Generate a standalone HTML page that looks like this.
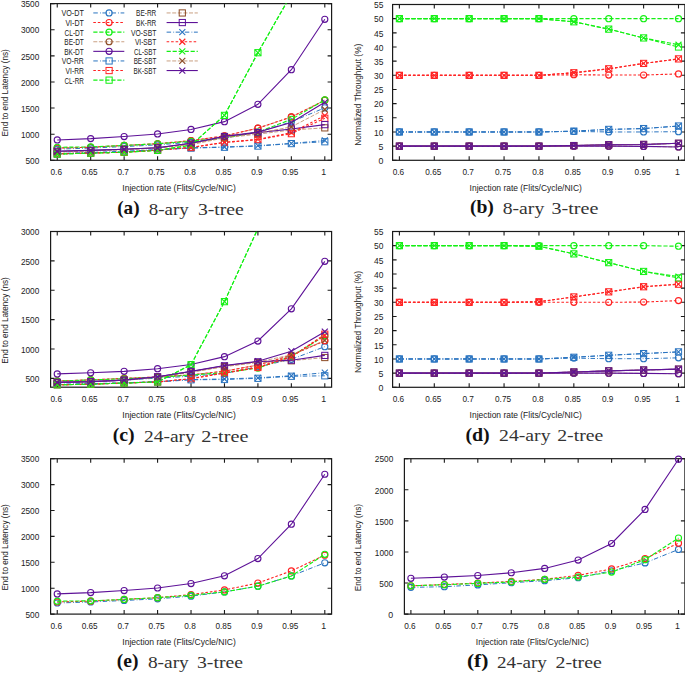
<!DOCTYPE html>
<html><head><meta charset="utf-8"><style>html,body{margin:0;padding:0;background:#fff;}svg{display:block;}</style></head>
<body><svg width="685" height="673" viewBox="0 0 685 673">
<rect width="685" height="673" fill="#fff"/>
<clipPath id="clipa"><rect x="50.6" y="3.6" width="281" height="156.7"/></clipPath>
<rect x="50.6" y="3.6" width="281" height="156.7" fill="none" stroke="#1a1a1a" stroke-width="1.2"/>
<text x="56.25" y="174.8" text-anchor="middle" textLength="11.5" lengthAdjust="spacingAndGlyphs" style="font-family:'Liberation Sans',sans-serif;font-size:8.8px" fill="#222">0.6</text>
<text x="89.69" y="174.8" text-anchor="middle" textLength="16" lengthAdjust="spacingAndGlyphs" style="font-family:'Liberation Sans',sans-serif;font-size:8.8px" fill="#222">0.65</text>
<text x="123.14" y="174.8" text-anchor="middle" textLength="11.5" lengthAdjust="spacingAndGlyphs" style="font-family:'Liberation Sans',sans-serif;font-size:8.8px" fill="#222">0.7</text>
<text x="156.58" y="174.8" text-anchor="middle" textLength="16" lengthAdjust="spacingAndGlyphs" style="font-family:'Liberation Sans',sans-serif;font-size:8.8px" fill="#222">0.75</text>
<text x="190.03" y="174.8" text-anchor="middle" textLength="11.5" lengthAdjust="spacingAndGlyphs" style="font-family:'Liberation Sans',sans-serif;font-size:8.8px" fill="#222">0.8</text>
<text x="223.47" y="174.8" text-anchor="middle" textLength="16" lengthAdjust="spacingAndGlyphs" style="font-family:'Liberation Sans',sans-serif;font-size:8.8px" fill="#222">0.85</text>
<text x="256.91" y="174.8" text-anchor="middle" textLength="11.5" lengthAdjust="spacingAndGlyphs" style="font-family:'Liberation Sans',sans-serif;font-size:8.8px" fill="#222">0.9</text>
<text x="290.36" y="174.8" text-anchor="middle" textLength="16" lengthAdjust="spacingAndGlyphs" style="font-family:'Liberation Sans',sans-serif;font-size:8.8px" fill="#222">0.95</text>
<text x="323.8" y="174.8" text-anchor="middle" textLength="4.9" lengthAdjust="spacingAndGlyphs" style="font-family:'Liberation Sans',sans-serif;font-size:8.8px" fill="#222">1</text>
<text x="39.3" y="164.05" text-anchor="end" textLength="13.9" lengthAdjust="spacingAndGlyphs" style="font-family:'Liberation Sans',sans-serif;font-size:8.8px" fill="#222">500</text>
<text x="39.3" y="137.93" text-anchor="end" textLength="18.4" lengthAdjust="spacingAndGlyphs" style="font-family:'Liberation Sans',sans-serif;font-size:8.8px" fill="#222">1000</text>
<text x="39.3" y="111.82" text-anchor="end" textLength="18.4" lengthAdjust="spacingAndGlyphs" style="font-family:'Liberation Sans',sans-serif;font-size:8.8px" fill="#222">1500</text>
<text x="39.3" y="85.7" text-anchor="end" textLength="18.4" lengthAdjust="spacingAndGlyphs" style="font-family:'Liberation Sans',sans-serif;font-size:8.8px" fill="#222">2000</text>
<text x="39.3" y="59.58" text-anchor="end" textLength="18.4" lengthAdjust="spacingAndGlyphs" style="font-family:'Liberation Sans',sans-serif;font-size:8.8px" fill="#222">2500</text>
<text x="39.3" y="33.47" text-anchor="end" textLength="18.4" lengthAdjust="spacingAndGlyphs" style="font-family:'Liberation Sans',sans-serif;font-size:8.8px" fill="#222">3000</text>
<text x="39.3" y="7.35" text-anchor="end" textLength="18.4" lengthAdjust="spacingAndGlyphs" style="font-family:'Liberation Sans',sans-serif;font-size:8.8px" fill="#222">3500</text>
<path d="M57.25 160.3v-4M57.25 3.6v4M90.69 160.3v-4M90.69 3.6v4M124.14 160.3v-4M124.14 3.6v4M157.58 160.3v-4M157.58 3.6v4M191.03 160.3v-4M191.03 3.6v4M224.47 160.3v-4M224.47 3.6v4M257.91 160.3v-4M257.91 3.6v4M291.36 160.3v-4M291.36 3.6v4M324.8 160.3v-4M324.8 3.6v4M50.6 160.3h4M331.6 160.3h-4M50.6 134.18h4M331.6 134.18h-4M50.6 108.07h4M331.6 108.07h-4M50.6 81.95h4M331.6 81.95h-4M50.6 55.83h4M331.6 55.83h-4M50.6 29.72h4M331.6 29.72h-4M50.6 3.6h4M331.6 3.6h-4" stroke="#1a1a1a" stroke-width="1.1"/>
<polyline clip-path="url(#clipa)" points="57.25,148.03 90.69,147.24 124.14,145.47 157.58,143.74 191.03,140.66 224.47,135.91 257.91,128.18 291.36,116.95 324.8,100.23" fill="none" stroke="#b8805a" stroke-width="0.75" stroke-dasharray="4 1.6"/>
<circle cx="57.25" cy="148.03" r="3.05" fill="none" stroke="#8b4a24" stroke-width="1.12"/>
<circle cx="90.69" cy="147.24" r="3.05" fill="none" stroke="#8b4a24" stroke-width="1.12"/>
<circle cx="124.14" cy="145.47" r="3.05" fill="none" stroke="#8b4a24" stroke-width="1.12"/>
<circle cx="157.58" cy="143.74" r="3.05" fill="none" stroke="#8b4a24" stroke-width="1.12"/>
<circle cx="191.03" cy="140.66" r="3.05" fill="none" stroke="#8b4a24" stroke-width="1.12"/>
<circle cx="224.47" cy="135.91" r="3.05" fill="none" stroke="#8b4a24" stroke-width="1.12"/>
<circle cx="257.91" cy="128.18" r="3.05" fill="none" stroke="#8b4a24" stroke-width="1.12"/>
<circle cx="291.36" cy="116.95" r="3.05" fill="none" stroke="#8b4a24" stroke-width="1.12"/>
<circle cx="324.8" cy="100.23" r="3.05" fill="none" stroke="#8b4a24" stroke-width="1.12"/>
<polyline clip-path="url(#clipa)" points="57.25,149.12 90.69,148.08 124.14,146.56 157.58,144.89 191.03,142.18 224.47,137.89 257.91,132.15 291.36,121.8 324.8,107.81" fill="none" stroke="#2a74c0" stroke-width="1.0" stroke-dasharray="4.5 2.2 0.8 1.6"/>
<circle cx="57.25" cy="149.12" r="3.05" fill="none" stroke="#2a74c0" stroke-width="1.12"/>
<circle cx="90.69" cy="148.08" r="3.05" fill="none" stroke="#2a74c0" stroke-width="1.12"/>
<circle cx="124.14" cy="146.56" r="3.05" fill="none" stroke="#2a74c0" stroke-width="1.12"/>
<circle cx="157.58" cy="144.89" r="3.05" fill="none" stroke="#2a74c0" stroke-width="1.12"/>
<circle cx="191.03" cy="142.18" r="3.05" fill="none" stroke="#2a74c0" stroke-width="1.12"/>
<circle cx="224.47" cy="137.89" r="3.05" fill="none" stroke="#2a74c0" stroke-width="1.12"/>
<circle cx="257.91" cy="132.15" r="3.05" fill="none" stroke="#2a74c0" stroke-width="1.12"/>
<circle cx="291.36" cy="121.8" r="3.05" fill="none" stroke="#2a74c0" stroke-width="1.12"/>
<circle cx="324.8" cy="107.81" r="3.05" fill="none" stroke="#2a74c0" stroke-width="1.12"/>
<polyline clip-path="url(#clipa)" points="57.25,148.03 90.69,147.24 124.14,145.47 157.58,143.74 191.03,140.66 224.47,135.91 257.91,128.18 291.36,116.95 324.8,100.23" fill="none" stroke="#ff2222" stroke-width="1.1" stroke-dasharray="2.6 1.9"/>
<circle cx="57.25" cy="148.03" r="3.05" fill="none" stroke="#ff2222" stroke-width="1.12"/>
<circle cx="90.69" cy="147.24" r="3.05" fill="none" stroke="#ff2222" stroke-width="1.12"/>
<circle cx="124.14" cy="145.47" r="3.05" fill="none" stroke="#ff2222" stroke-width="1.12"/>
<circle cx="157.58" cy="143.74" r="3.05" fill="none" stroke="#ff2222" stroke-width="1.12"/>
<circle cx="191.03" cy="140.66" r="3.05" fill="none" stroke="#ff2222" stroke-width="1.12"/>
<circle cx="224.47" cy="135.91" r="3.05" fill="none" stroke="#ff2222" stroke-width="1.12"/>
<circle cx="257.91" cy="128.18" r="3.05" fill="none" stroke="#ff2222" stroke-width="1.12"/>
<circle cx="291.36" cy="116.95" r="3.05" fill="none" stroke="#ff2222" stroke-width="1.12"/>
<circle cx="324.8" cy="100.23" r="3.05" fill="none" stroke="#ff2222" stroke-width="1.12"/>
<polyline clip-path="url(#clipa)" points="57.25,147.29 90.69,146.88 124.14,145.47 157.58,143.74 191.03,141.39 224.47,137.89 257.91,132.15 291.36,119.3 324.8,99.97" fill="none" stroke="#14f014" stroke-width="1.1" stroke-dasharray="4.2 1.8"/>
<circle cx="57.25" cy="147.29" r="3.05" fill="none" stroke="#14f014" stroke-width="1.12"/>
<circle cx="90.69" cy="146.88" r="3.05" fill="none" stroke="#14f014" stroke-width="1.12"/>
<circle cx="124.14" cy="145.47" r="3.05" fill="none" stroke="#14f014" stroke-width="1.12"/>
<circle cx="157.58" cy="143.74" r="3.05" fill="none" stroke="#14f014" stroke-width="1.12"/>
<circle cx="191.03" cy="141.39" r="3.05" fill="none" stroke="#14f014" stroke-width="1.12"/>
<circle cx="224.47" cy="137.89" r="3.05" fill="none" stroke="#14f014" stroke-width="1.12"/>
<circle cx="257.91" cy="132.15" r="3.05" fill="none" stroke="#14f014" stroke-width="1.12"/>
<circle cx="291.36" cy="119.3" r="3.05" fill="none" stroke="#14f014" stroke-width="1.12"/>
<circle cx="324.8" cy="99.97" r="3.05" fill="none" stroke="#14f014" stroke-width="1.12"/>
<polyline clip-path="url(#clipa)" points="57.25,139.93 90.69,138.62 124.14,136.53 157.58,133.97 191.03,129.48 224.47,121.65 257.91,104.31 291.36,69.68 324.8,19.27" fill="none" stroke="#5e1298" stroke-width="1.1"/>
<circle cx="57.25" cy="139.93" r="3.05" fill="none" stroke="#5e1298" stroke-width="1.12"/>
<circle cx="90.69" cy="138.62" r="3.05" fill="none" stroke="#5e1298" stroke-width="1.12"/>
<circle cx="124.14" cy="136.53" r="3.05" fill="none" stroke="#5e1298" stroke-width="1.12"/>
<circle cx="157.58" cy="133.97" r="3.05" fill="none" stroke="#5e1298" stroke-width="1.12"/>
<circle cx="191.03" cy="129.48" r="3.05" fill="none" stroke="#5e1298" stroke-width="1.12"/>
<circle cx="224.47" cy="121.65" r="3.05" fill="none" stroke="#5e1298" stroke-width="1.12"/>
<circle cx="257.91" cy="104.31" r="3.05" fill="none" stroke="#5e1298" stroke-width="1.12"/>
<circle cx="291.36" cy="69.68" r="3.05" fill="none" stroke="#5e1298" stroke-width="1.12"/>
<circle cx="324.8" cy="19.27" r="3.05" fill="none" stroke="#5e1298" stroke-width="1.12"/>
<polyline clip-path="url(#clipa)" points="57.25,154.03 90.69,152.99 124.14,151.68 157.58,149.85 191.03,148.13 224.47,147.24 257.91,146.09 291.36,143.59 324.8,141.76" fill="none" stroke="#2a74c0" stroke-width="1.0" stroke-dasharray="4.5 2.2 0.8 1.6"/>
<rect x="54.15" y="150.93" width="6.2" height="6.2" fill="none" stroke="#2a74c0" stroke-width="1.0"/>
<rect x="87.59" y="149.89" width="6.2" height="6.2" fill="none" stroke="#2a74c0" stroke-width="1.0"/>
<rect x="121.04" y="148.58" width="6.2" height="6.2" fill="none" stroke="#2a74c0" stroke-width="1.0"/>
<rect x="154.48" y="146.75" width="6.2" height="6.2" fill="none" stroke="#2a74c0" stroke-width="1.0"/>
<rect x="187.93" y="145.03" width="6.2" height="6.2" fill="none" stroke="#2a74c0" stroke-width="1.0"/>
<rect x="221.37" y="144.14" width="6.2" height="6.2" fill="none" stroke="#2a74c0" stroke-width="1.0"/>
<rect x="254.81" y="142.99" width="6.2" height="6.2" fill="none" stroke="#2a74c0" stroke-width="1.0"/>
<rect x="288.26" y="140.49" width="6.2" height="6.2" fill="none" stroke="#2a74c0" stroke-width="1.0"/>
<rect x="321.7" y="138.66" width="6.2" height="6.2" fill="none" stroke="#2a74c0" stroke-width="1.0"/>
<polyline clip-path="url(#clipa)" points="57.25,153.82 90.69,152.99 124.14,152.31 157.58,150.11 191.03,147.5 224.47,142.54 257.91,139.62 291.36,133.66 324.8,118.25" fill="none" stroke="#ff2222" stroke-width="1.1" stroke-dasharray="2.6 1.9"/>
<rect x="54.15" y="150.72" width="6.2" height="6.2" fill="none" stroke="#ff2222" stroke-width="1.0"/>
<rect x="87.59" y="149.89" width="6.2" height="6.2" fill="none" stroke="#ff2222" stroke-width="1.0"/>
<rect x="121.04" y="149.21" width="6.2" height="6.2" fill="none" stroke="#ff2222" stroke-width="1.0"/>
<rect x="154.48" y="147.01" width="6.2" height="6.2" fill="none" stroke="#ff2222" stroke-width="1.0"/>
<rect x="187.93" y="144.4" width="6.2" height="6.2" fill="none" stroke="#ff2222" stroke-width="1.0"/>
<rect x="221.37" y="139.44" width="6.2" height="6.2" fill="none" stroke="#ff2222" stroke-width="1.0"/>
<rect x="254.81" y="136.52" width="6.2" height="6.2" fill="none" stroke="#ff2222" stroke-width="1.0"/>
<rect x="288.26" y="130.56" width="6.2" height="6.2" fill="none" stroke="#ff2222" stroke-width="1.0"/>
<rect x="321.7" y="115.15" width="6.2" height="6.2" fill="none" stroke="#ff2222" stroke-width="1.0"/>
<polyline clip-path="url(#clipa)" points="57.25,154.03 90.69,153.14 124.14,152.2 157.58,150.38 191.03,145.15 224.47,115.38 257.91,52.7 291.36,-5.8 324.8,-64.3" fill="none" stroke="#14f014" stroke-width="1.1" stroke-dasharray="4.2 1.8"/>
<rect x="54.15" y="150.93" width="6.2" height="6.2" fill="none" stroke="#14f014" stroke-width="1.0"/>
<rect x="87.59" y="150.04" width="6.2" height="6.2" fill="none" stroke="#14f014" stroke-width="1.0"/>
<rect x="121.04" y="149.1" width="6.2" height="6.2" fill="none" stroke="#14f014" stroke-width="1.0"/>
<rect x="154.48" y="147.28" width="6.2" height="6.2" fill="none" stroke="#14f014" stroke-width="1.0"/>
<rect x="187.93" y="142.05" width="6.2" height="6.2" fill="none" stroke="#14f014" stroke-width="1.0"/>
<rect x="221.37" y="112.28" width="6.2" height="6.2" fill="none" stroke="#14f014" stroke-width="1.0"/>
<rect x="254.81" y="49.6" width="6.2" height="6.2" fill="none" stroke="#14f014" stroke-width="1.0"/>
<polyline clip-path="url(#clipa)" points="57.25,151.94 90.69,150.9 124.14,149.59 157.58,148.03 191.03,144.63 224.47,137.84 257.91,134.18 291.36,130 324.8,127.86" fill="none" stroke="#b8805a" stroke-width="0.75" stroke-dasharray="4 1.6"/>
<rect x="54.15" y="148.84" width="6.2" height="6.2" fill="none" stroke="#8b4a24" stroke-width="1.0"/>
<rect x="87.59" y="147.8" width="6.2" height="6.2" fill="none" stroke="#8b4a24" stroke-width="1.0"/>
<rect x="121.04" y="146.49" width="6.2" height="6.2" fill="none" stroke="#8b4a24" stroke-width="1.0"/>
<rect x="154.48" y="144.93" width="6.2" height="6.2" fill="none" stroke="#8b4a24" stroke-width="1.0"/>
<rect x="187.93" y="141.53" width="6.2" height="6.2" fill="none" stroke="#8b4a24" stroke-width="1.0"/>
<rect x="221.37" y="134.74" width="6.2" height="6.2" fill="none" stroke="#8b4a24" stroke-width="1.0"/>
<rect x="254.81" y="131.08" width="6.2" height="6.2" fill="none" stroke="#8b4a24" stroke-width="1.0"/>
<rect x="288.26" y="126.9" width="6.2" height="6.2" fill="none" stroke="#8b4a24" stroke-width="1.0"/>
<rect x="321.7" y="124.76" width="6.2" height="6.2" fill="none" stroke="#8b4a24" stroke-width="1.0"/>
<polyline clip-path="url(#clipa)" points="57.25,151.21 90.69,150.38 124.14,149.23 157.58,147.82 191.03,143.22 224.47,136.53 257.91,132.62 291.36,128.96 324.8,124.62" fill="none" stroke="#5e1298" stroke-width="1.1"/>
<rect x="54.15" y="148.11" width="6.2" height="6.2" fill="none" stroke="#5e1298" stroke-width="1.0"/>
<rect x="87.59" y="147.28" width="6.2" height="6.2" fill="none" stroke="#5e1298" stroke-width="1.0"/>
<rect x="121.04" y="146.13" width="6.2" height="6.2" fill="none" stroke="#5e1298" stroke-width="1.0"/>
<rect x="154.48" y="144.72" width="6.2" height="6.2" fill="none" stroke="#5e1298" stroke-width="1.0"/>
<rect x="187.93" y="140.12" width="6.2" height="6.2" fill="none" stroke="#5e1298" stroke-width="1.0"/>
<rect x="221.37" y="133.43" width="6.2" height="6.2" fill="none" stroke="#5e1298" stroke-width="1.0"/>
<rect x="254.81" y="129.52" width="6.2" height="6.2" fill="none" stroke="#5e1298" stroke-width="1.0"/>
<rect x="288.26" y="125.86" width="6.2" height="6.2" fill="none" stroke="#5e1298" stroke-width="1.0"/>
<rect x="321.7" y="121.52" width="6.2" height="6.2" fill="none" stroke="#5e1298" stroke-width="1.0"/>
<polyline clip-path="url(#clipa)" points="57.25,153.51 90.69,152.47 124.14,151.32 157.58,149.59 191.03,147.76 224.47,146.98 257.91,145.67 291.36,143.43 324.8,140.45" fill="none" stroke="#2a74c0" stroke-width="1.0" stroke-dasharray="4.5 2.2 0.8 1.6"/>
<path d="M54.25 150.51L60.25 156.51M54.25 156.51L60.25 150.51" stroke="#2a74c0" stroke-width="1.15" fill="none"/>
<path d="M87.69 149.47L93.69 155.47M87.69 155.47L93.69 149.47" stroke="#2a74c0" stroke-width="1.15" fill="none"/>
<path d="M121.14 148.32L127.14 154.32M121.14 154.32L127.14 148.32" stroke="#2a74c0" stroke-width="1.15" fill="none"/>
<path d="M154.58 146.59L160.58 152.59M154.58 152.59L160.58 146.59" stroke="#2a74c0" stroke-width="1.15" fill="none"/>
<path d="M188.03 144.76L194.03 150.76M188.03 150.76L194.03 144.76" stroke="#2a74c0" stroke-width="1.15" fill="none"/>
<path d="M221.47 143.98L227.47 149.98M221.47 149.98L227.47 143.98" stroke="#2a74c0" stroke-width="1.15" fill="none"/>
<path d="M254.91 142.67L260.91 148.67M254.91 148.67L260.91 142.67" stroke="#2a74c0" stroke-width="1.15" fill="none"/>
<path d="M288.36 140.43L294.36 146.43M288.36 146.43L294.36 140.43" stroke="#2a74c0" stroke-width="1.15" fill="none"/>
<path d="M321.8 137.45L327.8 143.45M321.8 143.45L327.8 137.45" stroke="#2a74c0" stroke-width="1.15" fill="none"/>
<polyline clip-path="url(#clipa)" points="57.25,153.82 90.69,152.99 124.14,152.31 157.58,150.11 191.03,147.5 224.47,142.28 257.91,139.41 291.36,132.62 324.8,115.64" fill="none" stroke="#ff2222" stroke-width="1.1" stroke-dasharray="2.6 1.9"/>
<path d="M54.25 150.82L60.25 156.82M54.25 156.82L60.25 150.82" stroke="#ff2222" stroke-width="1.15" fill="none"/>
<path d="M87.69 149.99L93.69 155.99M87.69 155.99L93.69 149.99" stroke="#ff2222" stroke-width="1.15" fill="none"/>
<path d="M121.14 149.31L127.14 155.31M121.14 155.31L127.14 149.31" stroke="#ff2222" stroke-width="1.15" fill="none"/>
<path d="M154.58 147.11L160.58 153.11M154.58 153.11L160.58 147.11" stroke="#ff2222" stroke-width="1.15" fill="none"/>
<path d="M188.03 144.5L194.03 150.5M188.03 150.5L194.03 144.5" stroke="#ff2222" stroke-width="1.15" fill="none"/>
<path d="M221.47 139.28L227.47 145.28M221.47 145.28L227.47 139.28" stroke="#ff2222" stroke-width="1.15" fill="none"/>
<path d="M254.91 136.41L260.91 142.41M254.91 142.41L260.91 136.41" stroke="#ff2222" stroke-width="1.15" fill="none"/>
<path d="M288.36 129.62L294.36 135.62M288.36 135.62L294.36 129.62" stroke="#ff2222" stroke-width="1.15" fill="none"/>
<path d="M321.8 112.64L327.8 118.64M321.8 118.64L327.8 112.64" stroke="#ff2222" stroke-width="1.15" fill="none"/>
<polyline clip-path="url(#clipa)" points="57.25,154.03 90.69,153.14 124.14,152.2 157.58,150.38 191.03,145.15 224.47,115.38 257.91,52.7 291.36,-5.8 324.8,-64.3" fill="none" stroke="#14f014" stroke-width="1.1" stroke-dasharray="4.2 1.8"/>
<path d="M54.25 151.03L60.25 157.03M54.25 157.03L60.25 151.03" stroke="#14f014" stroke-width="1.15" fill="none"/>
<path d="M87.69 150.14L93.69 156.14M87.69 156.14L93.69 150.14" stroke="#14f014" stroke-width="1.15" fill="none"/>
<path d="M121.14 149.2L127.14 155.2M121.14 155.2L127.14 149.2" stroke="#14f014" stroke-width="1.15" fill="none"/>
<path d="M154.58 147.38L160.58 153.38M154.58 153.38L160.58 147.38" stroke="#14f014" stroke-width="1.15" fill="none"/>
<path d="M188.03 142.15L194.03 148.15M188.03 148.15L194.03 142.15" stroke="#14f014" stroke-width="1.15" fill="none"/>
<path d="M221.47 112.38L227.47 118.38M221.47 118.38L227.47 112.38" stroke="#14f014" stroke-width="1.15" fill="none"/>
<path d="M254.91 49.7L260.91 55.7M254.91 55.7L260.91 49.7" stroke="#14f014" stroke-width="1.15" fill="none"/>
<polyline clip-path="url(#clipa)" points="57.25,151.94 90.69,150.9 124.14,149.59 157.58,148.03 191.03,144.11 224.47,137.32 257.91,133.14 291.36,126.87 324.8,109.48" fill="none" stroke="#b8805a" stroke-width="0.75" stroke-dasharray="4 1.6"/>
<path d="M54.25 148.94L60.25 154.94M54.25 154.94L60.25 148.94" stroke="#8b4a24" stroke-width="1.15" fill="none"/>
<path d="M87.69 147.9L93.69 153.9M87.69 153.9L93.69 147.9" stroke="#8b4a24" stroke-width="1.15" fill="none"/>
<path d="M121.14 146.59L127.14 152.59M121.14 152.59L127.14 146.59" stroke="#8b4a24" stroke-width="1.15" fill="none"/>
<path d="M154.58 145.03L160.58 151.03M154.58 151.03L160.58 145.03" stroke="#8b4a24" stroke-width="1.15" fill="none"/>
<path d="M188.03 141.11L194.03 147.11M188.03 147.11L194.03 141.11" stroke="#8b4a24" stroke-width="1.15" fill="none"/>
<path d="M221.47 134.32L227.47 140.32M221.47 140.32L227.47 134.32" stroke="#8b4a24" stroke-width="1.15" fill="none"/>
<path d="M254.91 130.14L260.91 136.14M254.91 136.14L260.91 130.14" stroke="#8b4a24" stroke-width="1.15" fill="none"/>
<path d="M288.36 123.87L294.36 129.87M288.36 129.87L294.36 123.87" stroke="#8b4a24" stroke-width="1.15" fill="none"/>
<path d="M321.8 106.48L327.8 112.48M321.8 112.48L327.8 106.48" stroke="#8b4a24" stroke-width="1.15" fill="none"/>
<polyline clip-path="url(#clipa)" points="57.25,151.21 90.69,150.38 124.14,149.23 157.58,147.82 191.03,143.22 224.47,136.27 257.91,132.09 291.36,122.59 324.8,102.32" fill="none" stroke="#5e1298" stroke-width="1.1"/>
<path d="M54.25 148.21L60.25 154.21M54.25 154.21L60.25 148.21" stroke="#5e1298" stroke-width="1.15" fill="none"/>
<path d="M87.69 147.38L93.69 153.38M87.69 153.38L93.69 147.38" stroke="#5e1298" stroke-width="1.15" fill="none"/>
<path d="M121.14 146.23L127.14 152.23M121.14 152.23L127.14 146.23" stroke="#5e1298" stroke-width="1.15" fill="none"/>
<path d="M154.58 144.82L160.58 150.82M154.58 150.82L160.58 144.82" stroke="#5e1298" stroke-width="1.15" fill="none"/>
<path d="M188.03 140.22L194.03 146.22M188.03 146.22L194.03 140.22" stroke="#5e1298" stroke-width="1.15" fill="none"/>
<path d="M221.47 133.27L227.47 139.27M221.47 139.27L227.47 133.27" stroke="#5e1298" stroke-width="1.15" fill="none"/>
<path d="M254.91 129.09L260.91 135.09M254.91 135.09L260.91 129.09" stroke="#5e1298" stroke-width="1.15" fill="none"/>
<path d="M288.36 119.59L294.36 125.59M288.36 125.59L294.36 119.59" stroke="#5e1298" stroke-width="1.15" fill="none"/>
<path d="M321.8 99.32L327.8 105.32M321.8 105.32L327.8 99.32" stroke="#5e1298" stroke-width="1.15" fill="none"/>
<text x="122.3" y="190.9" textLength="113.5" lengthAdjust="spacingAndGlyphs" style="font-family:'Liberation Sans',sans-serif;font-size:9px" fill="#222">Injection rate (Flits/Cycle/NIC)</text>
<text transform="translate(7.8,136.4) rotate(-90)" x="0" y="0" textLength="87.2" lengthAdjust="spacingAndGlyphs" style="font-family:'Liberation Sans',sans-serif;font-size:8.6px" fill="#222">End to end Latency (ns)</text>
<text x="117.2" y="213.8" textLength="22.4" lengthAdjust="spacingAndGlyphs" style="font-family:'Liberation Serif',serif;font-weight:bold;font-size:19.5px" fill="#111">(a)</text>
<text x="148.8" y="214.7" textLength="39.9" lengthAdjust="spacingAndGlyphs" style="font-family:'Liberation Serif',serif;font-size:16.5px" fill="#333">8-ary</text>
<text x="197.9" y="214.7" textLength="46" lengthAdjust="spacingAndGlyphs" style="font-family:'Liberation Serif',serif;font-size:16.5px" fill="#333">3-tree</text>
<clipPath id="clipb"><rect x="392.6" y="4.5" width="292.3" height="155.8"/></clipPath>
<rect x="392.6" y="4.5" width="292.3" height="155.8" fill="none" stroke="#1a1a1a" stroke-width="1.2"/>
<text x="398.4" y="174.8" text-anchor="middle" textLength="11.5" lengthAdjust="spacingAndGlyphs" style="font-family:'Liberation Sans',sans-serif;font-size:8.8px" fill="#222">0.6</text>
<text x="433.29" y="174.8" text-anchor="middle" textLength="16" lengthAdjust="spacingAndGlyphs" style="font-family:'Liberation Sans',sans-serif;font-size:8.8px" fill="#222">0.65</text>
<text x="468.17" y="174.8" text-anchor="middle" textLength="11.5" lengthAdjust="spacingAndGlyphs" style="font-family:'Liberation Sans',sans-serif;font-size:8.8px" fill="#222">0.7</text>
<text x="503.06" y="174.8" text-anchor="middle" textLength="16" lengthAdjust="spacingAndGlyphs" style="font-family:'Liberation Sans',sans-serif;font-size:8.8px" fill="#222">0.75</text>
<text x="537.95" y="174.8" text-anchor="middle" textLength="11.5" lengthAdjust="spacingAndGlyphs" style="font-family:'Liberation Sans',sans-serif;font-size:8.8px" fill="#222">0.8</text>
<text x="572.84" y="174.8" text-anchor="middle" textLength="16" lengthAdjust="spacingAndGlyphs" style="font-family:'Liberation Sans',sans-serif;font-size:8.8px" fill="#222">0.85</text>
<text x="607.73" y="174.8" text-anchor="middle" textLength="11.5" lengthAdjust="spacingAndGlyphs" style="font-family:'Liberation Sans',sans-serif;font-size:8.8px" fill="#222">0.9</text>
<text x="642.61" y="174.8" text-anchor="middle" textLength="16" lengthAdjust="spacingAndGlyphs" style="font-family:'Liberation Sans',sans-serif;font-size:8.8px" fill="#222">0.95</text>
<text x="677.5" y="174.8" text-anchor="middle" textLength="4.9" lengthAdjust="spacingAndGlyphs" style="font-family:'Liberation Sans',sans-serif;font-size:8.8px" fill="#222">1</text>
<text x="383.5" y="164.05" text-anchor="end" textLength="4.9" lengthAdjust="spacingAndGlyphs" style="font-family:'Liberation Sans',sans-serif;font-size:8.8px" fill="#222">0</text>
<text x="383.5" y="149.89" text-anchor="end" textLength="4.9" lengthAdjust="spacingAndGlyphs" style="font-family:'Liberation Sans',sans-serif;font-size:8.8px" fill="#222">5</text>
<text x="383.5" y="135.72" text-anchor="end" textLength="9.4" lengthAdjust="spacingAndGlyphs" style="font-family:'Liberation Sans',sans-serif;font-size:8.8px" fill="#222">10</text>
<text x="383.5" y="121.56" text-anchor="end" textLength="9.4" lengthAdjust="spacingAndGlyphs" style="font-family:'Liberation Sans',sans-serif;font-size:8.8px" fill="#222">15</text>
<text x="383.5" y="107.4" text-anchor="end" textLength="9.4" lengthAdjust="spacingAndGlyphs" style="font-family:'Liberation Sans',sans-serif;font-size:8.8px" fill="#222">20</text>
<text x="383.5" y="93.23" text-anchor="end" textLength="9.4" lengthAdjust="spacingAndGlyphs" style="font-family:'Liberation Sans',sans-serif;font-size:8.8px" fill="#222">25</text>
<text x="383.5" y="79.07" text-anchor="end" textLength="9.4" lengthAdjust="spacingAndGlyphs" style="font-family:'Liberation Sans',sans-serif;font-size:8.8px" fill="#222">30</text>
<text x="383.5" y="64.9" text-anchor="end" textLength="9.4" lengthAdjust="spacingAndGlyphs" style="font-family:'Liberation Sans',sans-serif;font-size:8.8px" fill="#222">35</text>
<text x="383.5" y="50.74" text-anchor="end" textLength="9.4" lengthAdjust="spacingAndGlyphs" style="font-family:'Liberation Sans',sans-serif;font-size:8.8px" fill="#222">40</text>
<text x="383.5" y="36.58" text-anchor="end" textLength="9.4" lengthAdjust="spacingAndGlyphs" style="font-family:'Liberation Sans',sans-serif;font-size:8.8px" fill="#222">45</text>
<text x="383.5" y="22.41" text-anchor="end" textLength="9.4" lengthAdjust="spacingAndGlyphs" style="font-family:'Liberation Sans',sans-serif;font-size:8.8px" fill="#222">50</text>
<text x="383.5" y="8.25" text-anchor="end" textLength="9.4" lengthAdjust="spacingAndGlyphs" style="font-family:'Liberation Sans',sans-serif;font-size:8.8px" fill="#222">55</text>
<path d="M399.4 160.3v-4M399.4 4.5v4M434.29 160.3v-4M434.29 4.5v4M469.17 160.3v-4M469.17 4.5v4M504.06 160.3v-4M504.06 4.5v4M538.95 160.3v-4M538.95 4.5v4M573.84 160.3v-4M573.84 4.5v4M608.73 160.3v-4M608.73 4.5v4M643.61 160.3v-4M643.61 4.5v4M678.5 160.3v-4M678.5 4.5v4M392.6 160.3h4M684.9 160.3h-4M392.6 146.14h4M684.9 146.14h-4M392.6 131.97h4M684.9 131.97h-4M392.6 117.81h4M684.9 117.81h-4M392.6 103.65h4M684.9 103.65h-4M392.6 89.48h4M684.9 89.48h-4M392.6 75.32h4M684.9 75.32h-4M392.6 61.15h4M684.9 61.15h-4M392.6 46.99h4M684.9 46.99h-4M392.6 32.83h4M684.9 32.83h-4M392.6 18.66h4M684.9 18.66h-4M392.6 4.5h4M684.9 4.5h-4" stroke="#1a1a1a" stroke-width="1.1"/>
<polyline clip-path="url(#clipb)" points="399.4,131.97 434.29,131.97 469.17,131.97 504.06,131.97 538.95,131.97 573.84,131.41 608.73,131.97 643.61,131.97 678.5,131.69" fill="none" stroke="#2a74c0" stroke-width="1.0" stroke-dasharray="4.5 2.2 0.8 1.6"/>
<circle cx="399.4" cy="131.97" r="3.05" fill="none" stroke="#2a74c0" stroke-width="1.12"/>
<circle cx="434.29" cy="131.97" r="3.05" fill="none" stroke="#2a74c0" stroke-width="1.12"/>
<circle cx="469.17" cy="131.97" r="3.05" fill="none" stroke="#2a74c0" stroke-width="1.12"/>
<circle cx="504.06" cy="131.97" r="3.05" fill="none" stroke="#2a74c0" stroke-width="1.12"/>
<circle cx="538.95" cy="131.97" r="3.05" fill="none" stroke="#2a74c0" stroke-width="1.12"/>
<circle cx="573.84" cy="131.41" r="3.05" fill="none" stroke="#2a74c0" stroke-width="1.12"/>
<circle cx="608.73" cy="131.97" r="3.05" fill="none" stroke="#2a74c0" stroke-width="1.12"/>
<circle cx="643.61" cy="131.97" r="3.05" fill="none" stroke="#2a74c0" stroke-width="1.12"/>
<circle cx="678.5" cy="131.69" r="3.05" fill="none" stroke="#2a74c0" stroke-width="1.12"/>
<polyline clip-path="url(#clipb)" points="399.4,75.32 434.29,75.32 469.17,75.32 504.06,75.32 538.95,75.32 573.84,74.75 608.73,75.03 643.61,75.03 678.5,73.9" fill="none" stroke="#ff2222" stroke-width="1.1" stroke-dasharray="2.6 1.9"/>
<circle cx="399.4" cy="75.32" r="3.05" fill="none" stroke="#ff2222" stroke-width="1.12"/>
<circle cx="434.29" cy="75.32" r="3.05" fill="none" stroke="#ff2222" stroke-width="1.12"/>
<circle cx="469.17" cy="75.32" r="3.05" fill="none" stroke="#ff2222" stroke-width="1.12"/>
<circle cx="504.06" cy="75.32" r="3.05" fill="none" stroke="#ff2222" stroke-width="1.12"/>
<circle cx="538.95" cy="75.32" r="3.05" fill="none" stroke="#ff2222" stroke-width="1.12"/>
<circle cx="573.84" cy="74.75" r="3.05" fill="none" stroke="#ff2222" stroke-width="1.12"/>
<circle cx="608.73" cy="75.03" r="3.05" fill="none" stroke="#ff2222" stroke-width="1.12"/>
<circle cx="643.61" cy="75.03" r="3.05" fill="none" stroke="#ff2222" stroke-width="1.12"/>
<circle cx="678.5" cy="73.9" r="3.05" fill="none" stroke="#ff2222" stroke-width="1.12"/>
<polyline clip-path="url(#clipb)" points="399.4,18.66 434.29,18.66 469.17,18.66 504.06,18.66 538.95,18.66 573.84,18.66 608.73,18.66 643.61,18.66 678.5,18.66" fill="none" stroke="#14f014" stroke-width="1.1" stroke-dasharray="4.2 1.8"/>
<circle cx="399.4" cy="18.66" r="3.05" fill="none" stroke="#14f014" stroke-width="1.12"/>
<circle cx="434.29" cy="18.66" r="3.05" fill="none" stroke="#14f014" stroke-width="1.12"/>
<circle cx="469.17" cy="18.66" r="3.05" fill="none" stroke="#14f014" stroke-width="1.12"/>
<circle cx="504.06" cy="18.66" r="3.05" fill="none" stroke="#14f014" stroke-width="1.12"/>
<circle cx="538.95" cy="18.66" r="3.05" fill="none" stroke="#14f014" stroke-width="1.12"/>
<circle cx="573.84" cy="18.66" r="3.05" fill="none" stroke="#14f014" stroke-width="1.12"/>
<circle cx="608.73" cy="18.66" r="3.05" fill="none" stroke="#14f014" stroke-width="1.12"/>
<circle cx="643.61" cy="18.66" r="3.05" fill="none" stroke="#14f014" stroke-width="1.12"/>
<circle cx="678.5" cy="18.66" r="3.05" fill="none" stroke="#14f014" stroke-width="1.12"/>
<polyline clip-path="url(#clipb)" points="399.4,146.14 434.29,146.14 469.17,146.14 504.06,146.14 538.95,146.14 573.84,146.14 608.73,146.14 643.61,146.42 678.5,146.99" fill="none" stroke="#b8805a" stroke-width="0.75" stroke-dasharray="4 1.6"/>
<circle cx="399.4" cy="146.14" r="3.05" fill="none" stroke="#8b4a24" stroke-width="1.12"/>
<circle cx="434.29" cy="146.14" r="3.05" fill="none" stroke="#8b4a24" stroke-width="1.12"/>
<circle cx="469.17" cy="146.14" r="3.05" fill="none" stroke="#8b4a24" stroke-width="1.12"/>
<circle cx="504.06" cy="146.14" r="3.05" fill="none" stroke="#8b4a24" stroke-width="1.12"/>
<circle cx="538.95" cy="146.14" r="3.05" fill="none" stroke="#8b4a24" stroke-width="1.12"/>
<circle cx="573.84" cy="146.14" r="3.05" fill="none" stroke="#8b4a24" stroke-width="1.12"/>
<circle cx="608.73" cy="146.14" r="3.05" fill="none" stroke="#8b4a24" stroke-width="1.12"/>
<circle cx="643.61" cy="146.42" r="3.05" fill="none" stroke="#8b4a24" stroke-width="1.12"/>
<circle cx="678.5" cy="146.99" r="3.05" fill="none" stroke="#8b4a24" stroke-width="1.12"/>
<polyline clip-path="url(#clipb)" points="399.4,146.14 434.29,146.14 469.17,146.14 504.06,146.14 538.95,146.14 573.84,146.14 608.73,146.14 643.61,146.42 678.5,146.99" fill="none" stroke="#5e1298" stroke-width="1.1"/>
<circle cx="399.4" cy="146.14" r="3.05" fill="none" stroke="#5e1298" stroke-width="1.12"/>
<circle cx="434.29" cy="146.14" r="3.05" fill="none" stroke="#5e1298" stroke-width="1.12"/>
<circle cx="469.17" cy="146.14" r="3.05" fill="none" stroke="#5e1298" stroke-width="1.12"/>
<circle cx="504.06" cy="146.14" r="3.05" fill="none" stroke="#5e1298" stroke-width="1.12"/>
<circle cx="538.95" cy="146.14" r="3.05" fill="none" stroke="#5e1298" stroke-width="1.12"/>
<circle cx="573.84" cy="146.14" r="3.05" fill="none" stroke="#5e1298" stroke-width="1.12"/>
<circle cx="608.73" cy="146.14" r="3.05" fill="none" stroke="#5e1298" stroke-width="1.12"/>
<circle cx="643.61" cy="146.42" r="3.05" fill="none" stroke="#5e1298" stroke-width="1.12"/>
<circle cx="678.5" cy="146.99" r="3.05" fill="none" stroke="#5e1298" stroke-width="1.12"/>
<polyline clip-path="url(#clipb)" points="399.4,131.97 434.29,131.97 469.17,131.97 504.06,131.97 538.95,131.97 573.84,131.12 608.73,129.42 643.61,128.57 678.5,126.02" fill="none" stroke="#2a74c0" stroke-width="1.0" stroke-dasharray="4.5 2.2 0.8 1.6"/>
<rect x="396.3" y="128.87" width="6.2" height="6.2" fill="none" stroke="#2a74c0" stroke-width="1.0"/>
<rect x="431.19" y="128.87" width="6.2" height="6.2" fill="none" stroke="#2a74c0" stroke-width="1.0"/>
<rect x="466.07" y="128.87" width="6.2" height="6.2" fill="none" stroke="#2a74c0" stroke-width="1.0"/>
<rect x="500.96" y="128.87" width="6.2" height="6.2" fill="none" stroke="#2a74c0" stroke-width="1.0"/>
<rect x="535.85" y="128.87" width="6.2" height="6.2" fill="none" stroke="#2a74c0" stroke-width="1.0"/>
<rect x="570.74" y="128.02" width="6.2" height="6.2" fill="none" stroke="#2a74c0" stroke-width="1.0"/>
<rect x="605.62" y="126.32" width="6.2" height="6.2" fill="none" stroke="#2a74c0" stroke-width="1.0"/>
<rect x="640.51" y="125.47" width="6.2" height="6.2" fill="none" stroke="#2a74c0" stroke-width="1.0"/>
<rect x="675.4" y="122.92" width="6.2" height="6.2" fill="none" stroke="#2a74c0" stroke-width="1.0"/>
<polyline clip-path="url(#clipb)" points="399.4,75.32 434.29,75.32 469.17,75.32 504.06,75.32 538.95,75.32 573.84,72.77 608.73,68.8 643.61,63.42 678.5,58.89" fill="none" stroke="#ff2222" stroke-width="1.1" stroke-dasharray="2.6 1.9"/>
<rect x="396.3" y="72.22" width="6.2" height="6.2" fill="none" stroke="#ff2222" stroke-width="1.0"/>
<rect x="431.19" y="72.22" width="6.2" height="6.2" fill="none" stroke="#ff2222" stroke-width="1.0"/>
<rect x="466.07" y="72.22" width="6.2" height="6.2" fill="none" stroke="#ff2222" stroke-width="1.0"/>
<rect x="500.96" y="72.22" width="6.2" height="6.2" fill="none" stroke="#ff2222" stroke-width="1.0"/>
<rect x="535.85" y="72.22" width="6.2" height="6.2" fill="none" stroke="#ff2222" stroke-width="1.0"/>
<rect x="570.74" y="69.67" width="6.2" height="6.2" fill="none" stroke="#ff2222" stroke-width="1.0"/>
<rect x="605.62" y="65.7" width="6.2" height="6.2" fill="none" stroke="#ff2222" stroke-width="1.0"/>
<rect x="640.51" y="60.32" width="6.2" height="6.2" fill="none" stroke="#ff2222" stroke-width="1.0"/>
<rect x="675.4" y="55.79" width="6.2" height="6.2" fill="none" stroke="#ff2222" stroke-width="1.0"/>
<polyline clip-path="url(#clipb)" points="399.4,18.66 434.29,18.66 469.17,18.66 504.06,18.66 538.95,18.66 573.84,21.78 608.73,29.14 643.61,37.93 678.5,46.99" fill="none" stroke="#14f014" stroke-width="1.1" stroke-dasharray="4.2 1.8"/>
<rect x="396.3" y="15.56" width="6.2" height="6.2" fill="none" stroke="#14f014" stroke-width="1.0"/>
<rect x="431.19" y="15.56" width="6.2" height="6.2" fill="none" stroke="#14f014" stroke-width="1.0"/>
<rect x="466.07" y="15.56" width="6.2" height="6.2" fill="none" stroke="#14f014" stroke-width="1.0"/>
<rect x="500.96" y="15.56" width="6.2" height="6.2" fill="none" stroke="#14f014" stroke-width="1.0"/>
<rect x="535.85" y="15.56" width="6.2" height="6.2" fill="none" stroke="#14f014" stroke-width="1.0"/>
<rect x="570.74" y="18.68" width="6.2" height="6.2" fill="none" stroke="#14f014" stroke-width="1.0"/>
<rect x="605.62" y="26.04" width="6.2" height="6.2" fill="none" stroke="#14f014" stroke-width="1.0"/>
<rect x="640.51" y="34.83" width="6.2" height="6.2" fill="none" stroke="#14f014" stroke-width="1.0"/>
<rect x="675.4" y="43.89" width="6.2" height="6.2" fill="none" stroke="#14f014" stroke-width="1.0"/>
<polyline clip-path="url(#clipb)" points="399.4,146.14 434.29,146.14 469.17,146.14 504.06,146.14 538.95,146.14 573.84,145.57 608.73,144.72 643.61,144.44 678.5,143.3" fill="none" stroke="#b8805a" stroke-width="0.75" stroke-dasharray="4 1.6"/>
<rect x="396.3" y="143.04" width="6.2" height="6.2" fill="none" stroke="#8b4a24" stroke-width="1.0"/>
<rect x="431.19" y="143.04" width="6.2" height="6.2" fill="none" stroke="#8b4a24" stroke-width="1.0"/>
<rect x="466.07" y="143.04" width="6.2" height="6.2" fill="none" stroke="#8b4a24" stroke-width="1.0"/>
<rect x="500.96" y="143.04" width="6.2" height="6.2" fill="none" stroke="#8b4a24" stroke-width="1.0"/>
<rect x="535.85" y="143.04" width="6.2" height="6.2" fill="none" stroke="#8b4a24" stroke-width="1.0"/>
<rect x="570.74" y="142.47" width="6.2" height="6.2" fill="none" stroke="#8b4a24" stroke-width="1.0"/>
<rect x="605.62" y="141.62" width="6.2" height="6.2" fill="none" stroke="#8b4a24" stroke-width="1.0"/>
<rect x="640.51" y="141.34" width="6.2" height="6.2" fill="none" stroke="#8b4a24" stroke-width="1.0"/>
<rect x="675.4" y="140.2" width="6.2" height="6.2" fill="none" stroke="#8b4a24" stroke-width="1.0"/>
<polyline clip-path="url(#clipb)" points="399.4,146.14 434.29,146.14 469.17,146.14 504.06,146.14 538.95,146.14 573.84,145.57 608.73,144.72 643.61,144.44 678.5,143.3" fill="none" stroke="#5e1298" stroke-width="1.1"/>
<rect x="396.3" y="143.04" width="6.2" height="6.2" fill="none" stroke="#5e1298" stroke-width="1.0"/>
<rect x="431.19" y="143.04" width="6.2" height="6.2" fill="none" stroke="#5e1298" stroke-width="1.0"/>
<rect x="466.07" y="143.04" width="6.2" height="6.2" fill="none" stroke="#5e1298" stroke-width="1.0"/>
<rect x="500.96" y="143.04" width="6.2" height="6.2" fill="none" stroke="#5e1298" stroke-width="1.0"/>
<rect x="535.85" y="143.04" width="6.2" height="6.2" fill="none" stroke="#5e1298" stroke-width="1.0"/>
<rect x="570.74" y="142.47" width="6.2" height="6.2" fill="none" stroke="#5e1298" stroke-width="1.0"/>
<rect x="605.62" y="141.62" width="6.2" height="6.2" fill="none" stroke="#5e1298" stroke-width="1.0"/>
<rect x="640.51" y="141.34" width="6.2" height="6.2" fill="none" stroke="#5e1298" stroke-width="1.0"/>
<rect x="675.4" y="140.2" width="6.2" height="6.2" fill="none" stroke="#5e1298" stroke-width="1.0"/>
<polyline clip-path="url(#clipb)" points="399.4,131.97 434.29,131.97 469.17,131.97 504.06,131.97 538.95,131.97 573.84,131.12 608.73,129.42 643.61,128.57 678.5,126.02" fill="none" stroke="#2a74c0" stroke-width="1.0" stroke-dasharray="4.5 2.2 0.8 1.6"/>
<path d="M396.4 128.97L402.4 134.97M396.4 134.97L402.4 128.97" stroke="#2a74c0" stroke-width="1.15" fill="none"/>
<path d="M431.29 128.97L437.29 134.97M431.29 134.97L437.29 128.97" stroke="#2a74c0" stroke-width="1.15" fill="none"/>
<path d="M466.17 128.97L472.17 134.97M466.17 134.97L472.17 128.97" stroke="#2a74c0" stroke-width="1.15" fill="none"/>
<path d="M501.06 128.97L507.06 134.97M501.06 134.97L507.06 128.97" stroke="#2a74c0" stroke-width="1.15" fill="none"/>
<path d="M535.95 128.97L541.95 134.97M535.95 134.97L541.95 128.97" stroke="#2a74c0" stroke-width="1.15" fill="none"/>
<path d="M570.84 128.12L576.84 134.12M570.84 134.12L576.84 128.12" stroke="#2a74c0" stroke-width="1.15" fill="none"/>
<path d="M605.73 126.42L611.73 132.42M605.73 132.42L611.73 126.42" stroke="#2a74c0" stroke-width="1.15" fill="none"/>
<path d="M640.61 125.57L646.61 131.57M640.61 131.57L646.61 125.57" stroke="#2a74c0" stroke-width="1.15" fill="none"/>
<path d="M675.5 123.02L681.5 129.02M675.5 129.02L681.5 123.02" stroke="#2a74c0" stroke-width="1.15" fill="none"/>
<polyline clip-path="url(#clipb)" points="399.4,75.32 434.29,75.32 469.17,75.32 504.06,75.32 538.95,75.32 573.84,72.77 608.73,68.8 643.61,63.42 678.5,58.89" fill="none" stroke="#ff2222" stroke-width="1.1" stroke-dasharray="2.6 1.9"/>
<path d="M396.4 72.32L402.4 78.32M396.4 78.32L402.4 72.32" stroke="#ff2222" stroke-width="1.15" fill="none"/>
<path d="M431.29 72.32L437.29 78.32M431.29 78.32L437.29 72.32" stroke="#ff2222" stroke-width="1.15" fill="none"/>
<path d="M466.17 72.32L472.17 78.32M466.17 78.32L472.17 72.32" stroke="#ff2222" stroke-width="1.15" fill="none"/>
<path d="M501.06 72.32L507.06 78.32M501.06 78.32L507.06 72.32" stroke="#ff2222" stroke-width="1.15" fill="none"/>
<path d="M535.95 72.32L541.95 78.32M535.95 78.32L541.95 72.32" stroke="#ff2222" stroke-width="1.15" fill="none"/>
<path d="M570.84 69.77L576.84 75.77M570.84 75.77L576.84 69.77" stroke="#ff2222" stroke-width="1.15" fill="none"/>
<path d="M605.73 65.8L611.73 71.8M605.73 71.8L611.73 65.8" stroke="#ff2222" stroke-width="1.15" fill="none"/>
<path d="M640.61 60.42L646.61 66.42M640.61 66.42L646.61 60.42" stroke="#ff2222" stroke-width="1.15" fill="none"/>
<path d="M675.5 55.89L681.5 61.89M675.5 61.89L681.5 55.89" stroke="#ff2222" stroke-width="1.15" fill="none"/>
<polyline clip-path="url(#clipb)" points="399.4,18.66 434.29,18.66 469.17,18.66 504.06,18.66 538.95,18.66 573.84,21.78 608.73,29.14 643.61,37.93 678.5,44.72" fill="none" stroke="#14f014" stroke-width="1.1" stroke-dasharray="4.2 1.8"/>
<path d="M396.4 15.66L402.4 21.66M396.4 21.66L402.4 15.66" stroke="#14f014" stroke-width="1.15" fill="none"/>
<path d="M431.29 15.66L437.29 21.66M431.29 21.66L437.29 15.66" stroke="#14f014" stroke-width="1.15" fill="none"/>
<path d="M466.17 15.66L472.17 21.66M466.17 21.66L472.17 15.66" stroke="#14f014" stroke-width="1.15" fill="none"/>
<path d="M501.06 15.66L507.06 21.66M501.06 21.66L507.06 15.66" stroke="#14f014" stroke-width="1.15" fill="none"/>
<path d="M535.95 15.66L541.95 21.66M535.95 21.66L541.95 15.66" stroke="#14f014" stroke-width="1.15" fill="none"/>
<path d="M570.84 18.78L576.84 24.78M570.84 24.78L576.84 18.78" stroke="#14f014" stroke-width="1.15" fill="none"/>
<path d="M605.73 26.14L611.73 32.14M605.73 32.14L611.73 26.14" stroke="#14f014" stroke-width="1.15" fill="none"/>
<path d="M640.61 34.93L646.61 40.93M640.61 40.93L646.61 34.93" stroke="#14f014" stroke-width="1.15" fill="none"/>
<path d="M675.5 41.72L681.5 47.72M675.5 47.72L681.5 41.72" stroke="#14f014" stroke-width="1.15" fill="none"/>
<polyline clip-path="url(#clipb)" points="399.4,146.14 434.29,146.14 469.17,146.14 504.06,146.14 538.95,146.14 573.84,145.57 608.73,144.72 643.61,144.44 678.5,143.3" fill="none" stroke="#b8805a" stroke-width="0.75" stroke-dasharray="4 1.6"/>
<path d="M396.4 143.14L402.4 149.14M396.4 149.14L402.4 143.14" stroke="#8b4a24" stroke-width="1.15" fill="none"/>
<path d="M431.29 143.14L437.29 149.14M431.29 149.14L437.29 143.14" stroke="#8b4a24" stroke-width="1.15" fill="none"/>
<path d="M466.17 143.14L472.17 149.14M466.17 149.14L472.17 143.14" stroke="#8b4a24" stroke-width="1.15" fill="none"/>
<path d="M501.06 143.14L507.06 149.14M501.06 149.14L507.06 143.14" stroke="#8b4a24" stroke-width="1.15" fill="none"/>
<path d="M535.95 143.14L541.95 149.14M535.95 149.14L541.95 143.14" stroke="#8b4a24" stroke-width="1.15" fill="none"/>
<path d="M570.84 142.57L576.84 148.57M570.84 148.57L576.84 142.57" stroke="#8b4a24" stroke-width="1.15" fill="none"/>
<path d="M605.73 141.72L611.73 147.72M605.73 147.72L611.73 141.72" stroke="#8b4a24" stroke-width="1.15" fill="none"/>
<path d="M640.61 141.44L646.61 147.44M640.61 147.44L646.61 141.44" stroke="#8b4a24" stroke-width="1.15" fill="none"/>
<path d="M675.5 140.3L681.5 146.3M675.5 146.3L681.5 140.3" stroke="#8b4a24" stroke-width="1.15" fill="none"/>
<polyline clip-path="url(#clipb)" points="399.4,146.14 434.29,146.14 469.17,146.14 504.06,146.14 538.95,146.14 573.84,145.57 608.73,144.72 643.61,144.44 678.5,143.3" fill="none" stroke="#5e1298" stroke-width="1.1"/>
<path d="M396.4 143.14L402.4 149.14M396.4 149.14L402.4 143.14" stroke="#5e1298" stroke-width="1.15" fill="none"/>
<path d="M431.29 143.14L437.29 149.14M431.29 149.14L437.29 143.14" stroke="#5e1298" stroke-width="1.15" fill="none"/>
<path d="M466.17 143.14L472.17 149.14M466.17 149.14L472.17 143.14" stroke="#5e1298" stroke-width="1.15" fill="none"/>
<path d="M501.06 143.14L507.06 149.14M501.06 149.14L507.06 143.14" stroke="#5e1298" stroke-width="1.15" fill="none"/>
<path d="M535.95 143.14L541.95 149.14M535.95 149.14L541.95 143.14" stroke="#5e1298" stroke-width="1.15" fill="none"/>
<path d="M570.84 142.57L576.84 148.57M570.84 148.57L576.84 142.57" stroke="#5e1298" stroke-width="1.15" fill="none"/>
<path d="M605.73 141.72L611.73 147.72M605.73 147.72L611.73 141.72" stroke="#5e1298" stroke-width="1.15" fill="none"/>
<path d="M640.61 141.44L646.61 147.44M640.61 147.44L646.61 141.44" stroke="#5e1298" stroke-width="1.15" fill="none"/>
<path d="M675.5 140.3L681.5 146.3M675.5 146.3L681.5 140.3" stroke="#5e1298" stroke-width="1.15" fill="none"/>
<text x="469.6" y="190.9" textLength="112.2" lengthAdjust="spacingAndGlyphs" style="font-family:'Liberation Sans',sans-serif;font-size:9px" fill="#222">Injection rate (Flits/Cycle/NIC)</text>
<text transform="translate(360.8,145.7) rotate(-90)" x="0" y="0" textLength="102" lengthAdjust="spacingAndGlyphs" style="font-family:'Liberation Sans',sans-serif;font-size:8.6px" fill="#222">Normalized Throughput (%)</text>
<text x="469.9" y="213" textLength="24" lengthAdjust="spacingAndGlyphs" style="font-family:'Liberation Serif',serif;font-weight:bold;font-size:19.5px" fill="#111">(b)</text>
<text x="502.7" y="213.9" textLength="41.6" lengthAdjust="spacingAndGlyphs" style="font-family:'Liberation Serif',serif;font-size:16.5px" fill="#333">8-ary</text>
<text x="551.5" y="213.9" textLength="46.9" lengthAdjust="spacingAndGlyphs" style="font-family:'Liberation Serif',serif;font-size:16.5px" fill="#333">3-tree</text>
<clipPath id="clipc"><rect x="50.6" y="231.5" width="281" height="155.7"/></clipPath>
<rect x="50.6" y="231.5" width="281" height="155.7" fill="none" stroke="#1a1a1a" stroke-width="1.2"/>
<text x="56.25" y="401.7" text-anchor="middle" textLength="11.5" lengthAdjust="spacingAndGlyphs" style="font-family:'Liberation Sans',sans-serif;font-size:8.8px" fill="#222">0.6</text>
<text x="89.69" y="401.7" text-anchor="middle" textLength="16" lengthAdjust="spacingAndGlyphs" style="font-family:'Liberation Sans',sans-serif;font-size:8.8px" fill="#222">0.65</text>
<text x="123.14" y="401.7" text-anchor="middle" textLength="11.5" lengthAdjust="spacingAndGlyphs" style="font-family:'Liberation Sans',sans-serif;font-size:8.8px" fill="#222">0.7</text>
<text x="156.58" y="401.7" text-anchor="middle" textLength="16" lengthAdjust="spacingAndGlyphs" style="font-family:'Liberation Sans',sans-serif;font-size:8.8px" fill="#222">0.75</text>
<text x="190.03" y="401.7" text-anchor="middle" textLength="11.5" lengthAdjust="spacingAndGlyphs" style="font-family:'Liberation Sans',sans-serif;font-size:8.8px" fill="#222">0.8</text>
<text x="223.47" y="401.7" text-anchor="middle" textLength="16" lengthAdjust="spacingAndGlyphs" style="font-family:'Liberation Sans',sans-serif;font-size:8.8px" fill="#222">0.85</text>
<text x="256.91" y="401.7" text-anchor="middle" textLength="11.5" lengthAdjust="spacingAndGlyphs" style="font-family:'Liberation Sans',sans-serif;font-size:8.8px" fill="#222">0.9</text>
<text x="290.36" y="401.7" text-anchor="middle" textLength="16" lengthAdjust="spacingAndGlyphs" style="font-family:'Liberation Sans',sans-serif;font-size:8.8px" fill="#222">0.95</text>
<text x="323.8" y="401.7" text-anchor="middle" textLength="4.9" lengthAdjust="spacingAndGlyphs" style="font-family:'Liberation Sans',sans-serif;font-size:8.8px" fill="#222">1</text>
<text x="39.3" y="382.14" text-anchor="end" textLength="13.9" lengthAdjust="spacingAndGlyphs" style="font-family:'Liberation Sans',sans-serif;font-size:8.8px" fill="#222">500</text>
<text x="39.3" y="352.76" text-anchor="end" textLength="18.4" lengthAdjust="spacingAndGlyphs" style="font-family:'Liberation Sans',sans-serif;font-size:8.8px" fill="#222">1000</text>
<text x="39.3" y="323.38" text-anchor="end" textLength="18.4" lengthAdjust="spacingAndGlyphs" style="font-family:'Liberation Sans',sans-serif;font-size:8.8px" fill="#222">1500</text>
<text x="39.3" y="294" text-anchor="end" textLength="18.4" lengthAdjust="spacingAndGlyphs" style="font-family:'Liberation Sans',sans-serif;font-size:8.8px" fill="#222">2000</text>
<text x="39.3" y="264.63" text-anchor="end" textLength="18.4" lengthAdjust="spacingAndGlyphs" style="font-family:'Liberation Sans',sans-serif;font-size:8.8px" fill="#222">2500</text>
<text x="39.3" y="235.25" text-anchor="end" textLength="18.4" lengthAdjust="spacingAndGlyphs" style="font-family:'Liberation Sans',sans-serif;font-size:8.8px" fill="#222">3000</text>
<path d="M57.25 387.2v-4M57.25 231.5v4M90.69 387.2v-4M90.69 231.5v4M124.14 387.2v-4M124.14 231.5v4M157.58 387.2v-4M157.58 231.5v4M191.03 387.2v-4M191.03 231.5v4M224.47 387.2v-4M224.47 231.5v4M257.91 387.2v-4M257.91 231.5v4M291.36 387.2v-4M291.36 231.5v4M324.8 387.2v-4M324.8 231.5v4M50.6 378.39h4M331.6 378.39h-4M50.6 349.01h4M331.6 349.01h-4M50.6 319.63h4M331.6 319.63h-4M50.6 290.25h4M331.6 290.25h-4M50.6 260.88h4M331.6 260.88h-4M50.6 231.5h4M331.6 231.5h-4" stroke="#1a1a1a" stroke-width="1.1"/>
<polyline clip-path="url(#clipc)" points="57.25,381.03 90.69,379.86 124.14,378.39 157.58,376.92 191.03,374.86 224.47,371.16 257.91,365.05 291.36,355.24 324.8,340.73" fill="none" stroke="#b8805a" stroke-width="0.75" stroke-dasharray="4 1.6"/>
<circle cx="57.25" cy="381.03" r="3.05" fill="none" stroke="#8b4a24" stroke-width="1.12"/>
<circle cx="90.69" cy="379.86" r="3.05" fill="none" stroke="#8b4a24" stroke-width="1.12"/>
<circle cx="124.14" cy="378.39" r="3.05" fill="none" stroke="#8b4a24" stroke-width="1.12"/>
<circle cx="157.58" cy="376.92" r="3.05" fill="none" stroke="#8b4a24" stroke-width="1.12"/>
<circle cx="191.03" cy="374.86" r="3.05" fill="none" stroke="#8b4a24" stroke-width="1.12"/>
<circle cx="224.47" cy="371.16" r="3.05" fill="none" stroke="#8b4a24" stroke-width="1.12"/>
<circle cx="257.91" cy="365.05" r="3.05" fill="none" stroke="#8b4a24" stroke-width="1.12"/>
<circle cx="291.36" cy="355.24" r="3.05" fill="none" stroke="#8b4a24" stroke-width="1.12"/>
<circle cx="324.8" cy="340.73" r="3.05" fill="none" stroke="#8b4a24" stroke-width="1.12"/>
<polyline clip-path="url(#clipc)" points="57.25,382.5 90.69,381.85 124.14,380.15 157.58,378.09 191.03,376.21 224.47,373.39 257.91,366.81 291.36,359.35 324.8,346.66" fill="none" stroke="#2a74c0" stroke-width="1.0" stroke-dasharray="4.5 2.2 0.8 1.6"/>
<circle cx="57.25" cy="382.5" r="3.05" fill="none" stroke="#2a74c0" stroke-width="1.12"/>
<circle cx="90.69" cy="381.85" r="3.05" fill="none" stroke="#2a74c0" stroke-width="1.12"/>
<circle cx="124.14" cy="380.15" r="3.05" fill="none" stroke="#2a74c0" stroke-width="1.12"/>
<circle cx="157.58" cy="378.09" r="3.05" fill="none" stroke="#2a74c0" stroke-width="1.12"/>
<circle cx="191.03" cy="376.21" r="3.05" fill="none" stroke="#2a74c0" stroke-width="1.12"/>
<circle cx="224.47" cy="373.39" r="3.05" fill="none" stroke="#2a74c0" stroke-width="1.12"/>
<circle cx="257.91" cy="366.81" r="3.05" fill="none" stroke="#2a74c0" stroke-width="1.12"/>
<circle cx="291.36" cy="359.35" r="3.05" fill="none" stroke="#2a74c0" stroke-width="1.12"/>
<circle cx="324.8" cy="346.66" r="3.05" fill="none" stroke="#2a74c0" stroke-width="1.12"/>
<polyline clip-path="url(#clipc)" points="57.25,381.03 90.69,379.86 124.14,378.39 157.58,376.92 191.03,374.86 224.47,371.16 257.91,365.05 291.36,355.24 324.8,340.73" fill="none" stroke="#ff2222" stroke-width="1.1" stroke-dasharray="2.6 1.9"/>
<circle cx="57.25" cy="381.03" r="3.05" fill="none" stroke="#ff2222" stroke-width="1.12"/>
<circle cx="90.69" cy="379.86" r="3.05" fill="none" stroke="#ff2222" stroke-width="1.12"/>
<circle cx="124.14" cy="378.39" r="3.05" fill="none" stroke="#ff2222" stroke-width="1.12"/>
<circle cx="157.58" cy="376.92" r="3.05" fill="none" stroke="#ff2222" stroke-width="1.12"/>
<circle cx="191.03" cy="374.86" r="3.05" fill="none" stroke="#ff2222" stroke-width="1.12"/>
<circle cx="224.47" cy="371.16" r="3.05" fill="none" stroke="#ff2222" stroke-width="1.12"/>
<circle cx="257.91" cy="365.05" r="3.05" fill="none" stroke="#ff2222" stroke-width="1.12"/>
<circle cx="291.36" cy="355.24" r="3.05" fill="none" stroke="#ff2222" stroke-width="1.12"/>
<circle cx="324.8" cy="340.73" r="3.05" fill="none" stroke="#ff2222" stroke-width="1.12"/>
<polyline clip-path="url(#clipc)" points="57.25,381.03 90.69,379.97 124.14,378.74 157.58,377.33 191.03,375.04 224.47,372.69 257.91,368.05 291.36,356.35 324.8,335.85" fill="none" stroke="#14f014" stroke-width="1.1" stroke-dasharray="4.2 1.8"/>
<circle cx="57.25" cy="381.03" r="3.05" fill="none" stroke="#14f014" stroke-width="1.12"/>
<circle cx="90.69" cy="379.97" r="3.05" fill="none" stroke="#14f014" stroke-width="1.12"/>
<circle cx="124.14" cy="378.74" r="3.05" fill="none" stroke="#14f014" stroke-width="1.12"/>
<circle cx="157.58" cy="377.33" r="3.05" fill="none" stroke="#14f014" stroke-width="1.12"/>
<circle cx="191.03" cy="375.04" r="3.05" fill="none" stroke="#14f014" stroke-width="1.12"/>
<circle cx="224.47" cy="372.69" r="3.05" fill="none" stroke="#14f014" stroke-width="1.12"/>
<circle cx="257.91" cy="368.05" r="3.05" fill="none" stroke="#14f014" stroke-width="1.12"/>
<circle cx="291.36" cy="356.35" r="3.05" fill="none" stroke="#14f014" stroke-width="1.12"/>
<circle cx="324.8" cy="335.85" r="3.05" fill="none" stroke="#14f014" stroke-width="1.12"/>
<polyline clip-path="url(#clipc)" points="57.25,373.92 90.69,372.81 124.14,371.34 157.58,368.69 191.03,364.58 224.47,356.65 257.91,341.02 291.36,308.82 324.8,261.35" fill="none" stroke="#5e1298" stroke-width="1.1"/>
<circle cx="57.25" cy="373.92" r="3.05" fill="none" stroke="#5e1298" stroke-width="1.12"/>
<circle cx="90.69" cy="372.81" r="3.05" fill="none" stroke="#5e1298" stroke-width="1.12"/>
<circle cx="124.14" cy="371.34" r="3.05" fill="none" stroke="#5e1298" stroke-width="1.12"/>
<circle cx="157.58" cy="368.69" r="3.05" fill="none" stroke="#5e1298" stroke-width="1.12"/>
<circle cx="191.03" cy="364.58" r="3.05" fill="none" stroke="#5e1298" stroke-width="1.12"/>
<circle cx="224.47" cy="356.65" r="3.05" fill="none" stroke="#5e1298" stroke-width="1.12"/>
<circle cx="257.91" cy="341.02" r="3.05" fill="none" stroke="#5e1298" stroke-width="1.12"/>
<circle cx="291.36" cy="308.82" r="3.05" fill="none" stroke="#5e1298" stroke-width="1.12"/>
<circle cx="324.8" cy="261.35" r="3.05" fill="none" stroke="#5e1298" stroke-width="1.12"/>
<polyline clip-path="url(#clipc)" points="57.25,384.56 90.69,383.97 124.14,383.09 157.58,381.91 191.03,379.8 224.47,379.5 257.91,378.33 291.36,376.27 324.8,375.8" fill="none" stroke="#2a74c0" stroke-width="1.0" stroke-dasharray="4.5 2.2 0.8 1.6"/>
<rect x="54.15" y="381.46" width="6.2" height="6.2" fill="none" stroke="#2a74c0" stroke-width="1.0"/>
<rect x="87.59" y="380.87" width="6.2" height="6.2" fill="none" stroke="#2a74c0" stroke-width="1.0"/>
<rect x="121.04" y="379.99" width="6.2" height="6.2" fill="none" stroke="#2a74c0" stroke-width="1.0"/>
<rect x="154.48" y="378.81" width="6.2" height="6.2" fill="none" stroke="#2a74c0" stroke-width="1.0"/>
<rect x="187.93" y="376.7" width="6.2" height="6.2" fill="none" stroke="#2a74c0" stroke-width="1.0"/>
<rect x="221.37" y="376.4" width="6.2" height="6.2" fill="none" stroke="#2a74c0" stroke-width="1.0"/>
<rect x="254.81" y="375.23" width="6.2" height="6.2" fill="none" stroke="#2a74c0" stroke-width="1.0"/>
<rect x="288.26" y="373.17" width="6.2" height="6.2" fill="none" stroke="#2a74c0" stroke-width="1.0"/>
<rect x="321.7" y="372.7" width="6.2" height="6.2" fill="none" stroke="#2a74c0" stroke-width="1.0"/>
<polyline clip-path="url(#clipc)" points="57.25,384.79 90.69,384.2 124.14,383.03 157.58,381.91 191.03,378.68 224.47,373.1 257.91,367.52 291.36,357.12 324.8,334.2" fill="none" stroke="#ff2222" stroke-width="1.1" stroke-dasharray="2.6 1.9"/>
<rect x="54.15" y="381.69" width="6.2" height="6.2" fill="none" stroke="#ff2222" stroke-width="1.0"/>
<rect x="87.59" y="381.1" width="6.2" height="6.2" fill="none" stroke="#ff2222" stroke-width="1.0"/>
<rect x="121.04" y="379.93" width="6.2" height="6.2" fill="none" stroke="#ff2222" stroke-width="1.0"/>
<rect x="154.48" y="378.81" width="6.2" height="6.2" fill="none" stroke="#ff2222" stroke-width="1.0"/>
<rect x="187.93" y="375.58" width="6.2" height="6.2" fill="none" stroke="#ff2222" stroke-width="1.0"/>
<rect x="221.37" y="370" width="6.2" height="6.2" fill="none" stroke="#ff2222" stroke-width="1.0"/>
<rect x="254.81" y="364.42" width="6.2" height="6.2" fill="none" stroke="#ff2222" stroke-width="1.0"/>
<rect x="288.26" y="354.02" width="6.2" height="6.2" fill="none" stroke="#ff2222" stroke-width="1.0"/>
<rect x="321.7" y="331.1" width="6.2" height="6.2" fill="none" stroke="#ff2222" stroke-width="1.0"/>
<polyline clip-path="url(#clipc)" points="57.25,384.79 90.69,384.2 124.14,383.03 157.58,381.91 191.03,364.7 224.47,301.65 257.91,228.56 291.36,143.37 324.8,55.24" fill="none" stroke="#14f014" stroke-width="1.1" stroke-dasharray="4.2 1.8"/>
<rect x="54.15" y="381.69" width="6.2" height="6.2" fill="none" stroke="#14f014" stroke-width="1.0"/>
<rect x="87.59" y="381.1" width="6.2" height="6.2" fill="none" stroke="#14f014" stroke-width="1.0"/>
<rect x="121.04" y="379.93" width="6.2" height="6.2" fill="none" stroke="#14f014" stroke-width="1.0"/>
<rect x="154.48" y="378.81" width="6.2" height="6.2" fill="none" stroke="#14f014" stroke-width="1.0"/>
<rect x="187.93" y="361.6" width="6.2" height="6.2" fill="none" stroke="#14f014" stroke-width="1.0"/>
<rect x="221.37" y="298.55" width="6.2" height="6.2" fill="none" stroke="#14f014" stroke-width="1.0"/>
<polyline clip-path="url(#clipc)" points="57.25,382.5 90.69,381.62 124.14,380.15 157.58,377.21 191.03,372.22 224.47,366.64 257.91,362.52 291.36,360.76 324.8,357.53" fill="none" stroke="#b8805a" stroke-width="0.75" stroke-dasharray="4 1.6"/>
<rect x="54.15" y="379.4" width="6.2" height="6.2" fill="none" stroke="#8b4a24" stroke-width="1.0"/>
<rect x="87.59" y="378.52" width="6.2" height="6.2" fill="none" stroke="#8b4a24" stroke-width="1.0"/>
<rect x="121.04" y="377.05" width="6.2" height="6.2" fill="none" stroke="#8b4a24" stroke-width="1.0"/>
<rect x="154.48" y="374.11" width="6.2" height="6.2" fill="none" stroke="#8b4a24" stroke-width="1.0"/>
<rect x="187.93" y="369.12" width="6.2" height="6.2" fill="none" stroke="#8b4a24" stroke-width="1.0"/>
<rect x="221.37" y="363.54" width="6.2" height="6.2" fill="none" stroke="#8b4a24" stroke-width="1.0"/>
<rect x="254.81" y="359.42" width="6.2" height="6.2" fill="none" stroke="#8b4a24" stroke-width="1.0"/>
<rect x="288.26" y="357.66" width="6.2" height="6.2" fill="none" stroke="#8b4a24" stroke-width="1.0"/>
<rect x="321.7" y="354.43" width="6.2" height="6.2" fill="none" stroke="#8b4a24" stroke-width="1.0"/>
<polyline clip-path="url(#clipc)" points="57.25,382.38 90.69,381.62 124.14,380.09 157.58,376.8 191.03,371.51 224.47,365.81 257.91,361.82 291.36,360.17 324.8,355.41" fill="none" stroke="#5e1298" stroke-width="1.1"/>
<rect x="54.15" y="379.28" width="6.2" height="6.2" fill="none" stroke="#5e1298" stroke-width="1.0"/>
<rect x="87.59" y="378.52" width="6.2" height="6.2" fill="none" stroke="#5e1298" stroke-width="1.0"/>
<rect x="121.04" y="376.99" width="6.2" height="6.2" fill="none" stroke="#5e1298" stroke-width="1.0"/>
<rect x="154.48" y="373.7" width="6.2" height="6.2" fill="none" stroke="#5e1298" stroke-width="1.0"/>
<rect x="187.93" y="368.41" width="6.2" height="6.2" fill="none" stroke="#5e1298" stroke-width="1.0"/>
<rect x="221.37" y="362.71" width="6.2" height="6.2" fill="none" stroke="#5e1298" stroke-width="1.0"/>
<rect x="254.81" y="358.72" width="6.2" height="6.2" fill="none" stroke="#5e1298" stroke-width="1.0"/>
<rect x="288.26" y="357.07" width="6.2" height="6.2" fill="none" stroke="#5e1298" stroke-width="1.0"/>
<rect x="321.7" y="352.31" width="6.2" height="6.2" fill="none" stroke="#5e1298" stroke-width="1.0"/>
<polyline clip-path="url(#clipc)" points="57.25,384.26 90.69,383.67 124.14,382.79 157.58,381.62 191.03,379.56 224.47,378.97 257.91,377.8 291.36,375.74 324.8,372.69" fill="none" stroke="#2a74c0" stroke-width="1.0" stroke-dasharray="4.5 2.2 0.8 1.6"/>
<path d="M54.25 381.26L60.25 387.26M54.25 387.26L60.25 381.26" stroke="#2a74c0" stroke-width="1.15" fill="none"/>
<path d="M87.69 380.67L93.69 386.67M87.69 386.67L93.69 380.67" stroke="#2a74c0" stroke-width="1.15" fill="none"/>
<path d="M121.14 379.79L127.14 385.79M121.14 385.79L127.14 379.79" stroke="#2a74c0" stroke-width="1.15" fill="none"/>
<path d="M154.58 378.62L160.58 384.62M154.58 384.62L160.58 378.62" stroke="#2a74c0" stroke-width="1.15" fill="none"/>
<path d="M188.03 376.56L194.03 382.56M188.03 382.56L194.03 376.56" stroke="#2a74c0" stroke-width="1.15" fill="none"/>
<path d="M221.47 375.97L227.47 381.97M221.47 381.97L227.47 375.97" stroke="#2a74c0" stroke-width="1.15" fill="none"/>
<path d="M254.91 374.8L260.91 380.8M254.91 380.8L260.91 374.8" stroke="#2a74c0" stroke-width="1.15" fill="none"/>
<path d="M288.36 372.74L294.36 378.74M288.36 378.74L294.36 372.74" stroke="#2a74c0" stroke-width="1.15" fill="none"/>
<path d="M321.8 369.69L327.8 375.69M321.8 375.69L327.8 369.69" stroke="#2a74c0" stroke-width="1.15" fill="none"/>
<polyline clip-path="url(#clipc)" points="57.25,384.79 90.69,384.2 124.14,383.03 157.58,381.91 191.03,378.68 224.47,372.81 257.91,367.22 291.36,356.65 324.8,335.5" fill="none" stroke="#ff2222" stroke-width="1.1" stroke-dasharray="2.6 1.9"/>
<path d="M54.25 381.79L60.25 387.79M54.25 387.79L60.25 381.79" stroke="#ff2222" stroke-width="1.15" fill="none"/>
<path d="M87.69 381.2L93.69 387.2M87.69 387.2L93.69 381.2" stroke="#ff2222" stroke-width="1.15" fill="none"/>
<path d="M121.14 380.03L127.14 386.03M121.14 386.03L127.14 380.03" stroke="#ff2222" stroke-width="1.15" fill="none"/>
<path d="M154.58 378.91L160.58 384.91M154.58 384.91L160.58 378.91" stroke="#ff2222" stroke-width="1.15" fill="none"/>
<path d="M188.03 375.68L194.03 381.68M188.03 381.68L194.03 375.68" stroke="#ff2222" stroke-width="1.15" fill="none"/>
<path d="M221.47 369.81L227.47 375.81M221.47 375.81L227.47 369.81" stroke="#ff2222" stroke-width="1.15" fill="none"/>
<path d="M254.91 364.22L260.91 370.22M254.91 370.22L260.91 364.22" stroke="#ff2222" stroke-width="1.15" fill="none"/>
<path d="M288.36 353.65L294.36 359.65M288.36 359.65L294.36 353.65" stroke="#ff2222" stroke-width="1.15" fill="none"/>
<path d="M321.8 332.5L327.8 338.5M321.8 338.5L327.8 332.5" stroke="#ff2222" stroke-width="1.15" fill="none"/>
<polyline clip-path="url(#clipc)" points="57.25,384.79 90.69,384.2 124.14,383.03 157.58,381.91 191.03,364.7 224.47,301.65 257.91,228.56 291.36,143.37 324.8,55.24" fill="none" stroke="#14f014" stroke-width="1.1" stroke-dasharray="4.2 1.8"/>
<path d="M54.25 381.79L60.25 387.79M54.25 387.79L60.25 381.79" stroke="#14f014" stroke-width="1.15" fill="none"/>
<path d="M87.69 381.2L93.69 387.2M87.69 387.2L93.69 381.2" stroke="#14f014" stroke-width="1.15" fill="none"/>
<path d="M121.14 380.03L127.14 386.03M121.14 386.03L127.14 380.03" stroke="#14f014" stroke-width="1.15" fill="none"/>
<path d="M154.58 378.91L160.58 384.91M154.58 384.91L160.58 378.91" stroke="#14f014" stroke-width="1.15" fill="none"/>
<path d="M188.03 361.7L194.03 367.7M188.03 367.7L194.03 361.7" stroke="#14f014" stroke-width="1.15" fill="none"/>
<path d="M221.47 298.65L227.47 304.65M221.47 304.65L227.47 298.65" stroke="#14f014" stroke-width="1.15" fill="none"/>
<polyline clip-path="url(#clipc)" points="57.25,382.5 90.69,381.62 124.14,380.15 157.58,377.21 191.03,371.92 224.47,366.34 257.91,361.94 291.36,354.88 324.8,340.37" fill="none" stroke="#b8805a" stroke-width="0.75" stroke-dasharray="4 1.6"/>
<path d="M54.25 379.5L60.25 385.5M54.25 385.5L60.25 379.5" stroke="#8b4a24" stroke-width="1.15" fill="none"/>
<path d="M87.69 378.62L93.69 384.62M87.69 384.62L93.69 378.62" stroke="#8b4a24" stroke-width="1.15" fill="none"/>
<path d="M121.14 377.15L127.14 383.15M121.14 383.15L127.14 377.15" stroke="#8b4a24" stroke-width="1.15" fill="none"/>
<path d="M154.58 374.21L160.58 380.21M154.58 380.21L160.58 374.21" stroke="#8b4a24" stroke-width="1.15" fill="none"/>
<path d="M188.03 368.92L194.03 374.92M188.03 374.92L194.03 368.92" stroke="#8b4a24" stroke-width="1.15" fill="none"/>
<path d="M221.47 363.34L227.47 369.34M221.47 369.34L227.47 363.34" stroke="#8b4a24" stroke-width="1.15" fill="none"/>
<path d="M254.91 358.94L260.91 364.94M254.91 364.94L260.91 358.94" stroke="#8b4a24" stroke-width="1.15" fill="none"/>
<path d="M288.36 351.88L294.36 357.88M288.36 357.88L294.36 351.88" stroke="#8b4a24" stroke-width="1.15" fill="none"/>
<path d="M321.8 337.37L327.8 343.37M321.8 343.37L327.8 337.37" stroke="#8b4a24" stroke-width="1.15" fill="none"/>
<polyline clip-path="url(#clipc)" points="57.25,382.38 90.69,381.62 124.14,380.09 157.58,376.8 191.03,371.34 224.47,365.46 257.91,361.23 291.36,351.18 324.8,331.68" fill="none" stroke="#5e1298" stroke-width="1.1"/>
<path d="M54.25 379.38L60.25 385.38M54.25 385.38L60.25 379.38" stroke="#5e1298" stroke-width="1.15" fill="none"/>
<path d="M87.69 378.62L93.69 384.62M87.69 384.62L93.69 378.62" stroke="#5e1298" stroke-width="1.15" fill="none"/>
<path d="M121.14 377.09L127.14 383.09M121.14 383.09L127.14 377.09" stroke="#5e1298" stroke-width="1.15" fill="none"/>
<path d="M154.58 373.8L160.58 379.8M154.58 379.8L160.58 373.8" stroke="#5e1298" stroke-width="1.15" fill="none"/>
<path d="M188.03 368.34L194.03 374.34M188.03 374.34L194.03 368.34" stroke="#5e1298" stroke-width="1.15" fill="none"/>
<path d="M221.47 362.46L227.47 368.46M221.47 368.46L227.47 362.46" stroke="#5e1298" stroke-width="1.15" fill="none"/>
<path d="M254.91 358.23L260.91 364.23M254.91 364.23L260.91 358.23" stroke="#5e1298" stroke-width="1.15" fill="none"/>
<path d="M288.36 348.18L294.36 354.18M288.36 354.18L294.36 348.18" stroke="#5e1298" stroke-width="1.15" fill="none"/>
<path d="M321.8 328.68L327.8 334.68M321.8 334.68L327.8 328.68" stroke="#5e1298" stroke-width="1.15" fill="none"/>
<text x="122.3" y="417.9" textLength="113.5" lengthAdjust="spacingAndGlyphs" style="font-family:'Liberation Sans',sans-serif;font-size:9px" fill="#222">Injection rate (Flits/Cycle/NIC)</text>
<text transform="translate(7.8,363.7) rotate(-90)" x="0" y="0" textLength="86.4" lengthAdjust="spacingAndGlyphs" style="font-family:'Liberation Sans',sans-serif;font-size:8.6px" fill="#222">End to end Latency (ns)</text>
<text x="112.7" y="441.3" textLength="21.9" lengthAdjust="spacingAndGlyphs" style="font-family:'Liberation Serif',serif;font-weight:bold;font-size:19.5px" fill="#111">(c)</text>
<text x="144" y="442.2" textLength="50.8" lengthAdjust="spacingAndGlyphs" style="font-family:'Liberation Serif',serif;font-size:16.5px" fill="#333">24-ary</text>
<text x="201.3" y="442.2" textLength="47.1" lengthAdjust="spacingAndGlyphs" style="font-family:'Liberation Serif',serif;font-size:16.5px" fill="#333">2-tree</text>
<clipPath id="clipd"><rect x="392.6" y="231.5" width="292.3" height="155.8"/></clipPath>
<rect x="392.6" y="231.5" width="292.3" height="155.8" fill="none" stroke="#1a1a1a" stroke-width="1.2"/>
<text x="398.4" y="401.8" text-anchor="middle" textLength="11.5" lengthAdjust="spacingAndGlyphs" style="font-family:'Liberation Sans',sans-serif;font-size:8.8px" fill="#222">0.6</text>
<text x="433.29" y="401.8" text-anchor="middle" textLength="16" lengthAdjust="spacingAndGlyphs" style="font-family:'Liberation Sans',sans-serif;font-size:8.8px" fill="#222">0.65</text>
<text x="468.17" y="401.8" text-anchor="middle" textLength="11.5" lengthAdjust="spacingAndGlyphs" style="font-family:'Liberation Sans',sans-serif;font-size:8.8px" fill="#222">0.7</text>
<text x="503.06" y="401.8" text-anchor="middle" textLength="16" lengthAdjust="spacingAndGlyphs" style="font-family:'Liberation Sans',sans-serif;font-size:8.8px" fill="#222">0.75</text>
<text x="537.95" y="401.8" text-anchor="middle" textLength="11.5" lengthAdjust="spacingAndGlyphs" style="font-family:'Liberation Sans',sans-serif;font-size:8.8px" fill="#222">0.8</text>
<text x="572.84" y="401.8" text-anchor="middle" textLength="16" lengthAdjust="spacingAndGlyphs" style="font-family:'Liberation Sans',sans-serif;font-size:8.8px" fill="#222">0.85</text>
<text x="607.73" y="401.8" text-anchor="middle" textLength="11.5" lengthAdjust="spacingAndGlyphs" style="font-family:'Liberation Sans',sans-serif;font-size:8.8px" fill="#222">0.9</text>
<text x="642.61" y="401.8" text-anchor="middle" textLength="16" lengthAdjust="spacingAndGlyphs" style="font-family:'Liberation Sans',sans-serif;font-size:8.8px" fill="#222">0.95</text>
<text x="677.5" y="401.8" text-anchor="middle" textLength="4.9" lengthAdjust="spacingAndGlyphs" style="font-family:'Liberation Sans',sans-serif;font-size:8.8px" fill="#222">1</text>
<text x="383.5" y="391.05" text-anchor="end" textLength="4.9" lengthAdjust="spacingAndGlyphs" style="font-family:'Liberation Sans',sans-serif;font-size:8.8px" fill="#222">0</text>
<text x="383.5" y="376.89" text-anchor="end" textLength="4.9" lengthAdjust="spacingAndGlyphs" style="font-family:'Liberation Sans',sans-serif;font-size:8.8px" fill="#222">5</text>
<text x="383.5" y="362.72" text-anchor="end" textLength="9.4" lengthAdjust="spacingAndGlyphs" style="font-family:'Liberation Sans',sans-serif;font-size:8.8px" fill="#222">10</text>
<text x="383.5" y="348.56" text-anchor="end" textLength="9.4" lengthAdjust="spacingAndGlyphs" style="font-family:'Liberation Sans',sans-serif;font-size:8.8px" fill="#222">15</text>
<text x="383.5" y="334.4" text-anchor="end" textLength="9.4" lengthAdjust="spacingAndGlyphs" style="font-family:'Liberation Sans',sans-serif;font-size:8.8px" fill="#222">20</text>
<text x="383.5" y="320.23" text-anchor="end" textLength="9.4" lengthAdjust="spacingAndGlyphs" style="font-family:'Liberation Sans',sans-serif;font-size:8.8px" fill="#222">25</text>
<text x="383.5" y="306.07" text-anchor="end" textLength="9.4" lengthAdjust="spacingAndGlyphs" style="font-family:'Liberation Sans',sans-serif;font-size:8.8px" fill="#222">30</text>
<text x="383.5" y="291.9" text-anchor="end" textLength="9.4" lengthAdjust="spacingAndGlyphs" style="font-family:'Liberation Sans',sans-serif;font-size:8.8px" fill="#222">35</text>
<text x="383.5" y="277.74" text-anchor="end" textLength="9.4" lengthAdjust="spacingAndGlyphs" style="font-family:'Liberation Sans',sans-serif;font-size:8.8px" fill="#222">40</text>
<text x="383.5" y="263.58" text-anchor="end" textLength="9.4" lengthAdjust="spacingAndGlyphs" style="font-family:'Liberation Sans',sans-serif;font-size:8.8px" fill="#222">45</text>
<text x="383.5" y="249.41" text-anchor="end" textLength="9.4" lengthAdjust="spacingAndGlyphs" style="font-family:'Liberation Sans',sans-serif;font-size:8.8px" fill="#222">50</text>
<text x="383.5" y="235.25" text-anchor="end" textLength="9.4" lengthAdjust="spacingAndGlyphs" style="font-family:'Liberation Sans',sans-serif;font-size:8.8px" fill="#222">55</text>
<path d="M399.4 387.3v-4M399.4 231.5v4M434.29 387.3v-4M434.29 231.5v4M469.17 387.3v-4M469.17 231.5v4M504.06 387.3v-4M504.06 231.5v4M538.95 387.3v-4M538.95 231.5v4M573.84 387.3v-4M573.84 231.5v4M608.73 387.3v-4M608.73 231.5v4M643.61 387.3v-4M643.61 231.5v4M678.5 387.3v-4M678.5 231.5v4M392.6 387.3h4M684.9 387.3h-4M392.6 373.14h4M684.9 373.14h-4M392.6 358.97h4M684.9 358.97h-4M392.6 344.81h4M684.9 344.81h-4M392.6 330.65h4M684.9 330.65h-4M392.6 316.48h4M684.9 316.48h-4M392.6 302.32h4M684.9 302.32h-4M392.6 288.15h4M684.9 288.15h-4M392.6 273.99h4M684.9 273.99h-4M392.6 259.83h4M684.9 259.83h-4M392.6 245.66h4M684.9 245.66h-4M392.6 231.5h4M684.9 231.5h-4" stroke="#1a1a1a" stroke-width="1.1"/>
<polyline clip-path="url(#clipd)" points="399.4,358.97 434.29,358.97 469.17,358.97 504.06,358.97 538.95,358.97 573.84,358.12 608.73,358.69 643.61,358.69 678.5,357.84" fill="none" stroke="#2a74c0" stroke-width="1.0" stroke-dasharray="4.5 2.2 0.8 1.6"/>
<circle cx="399.4" cy="358.97" r="3.05" fill="none" stroke="#2a74c0" stroke-width="1.12"/>
<circle cx="434.29" cy="358.97" r="3.05" fill="none" stroke="#2a74c0" stroke-width="1.12"/>
<circle cx="469.17" cy="358.97" r="3.05" fill="none" stroke="#2a74c0" stroke-width="1.12"/>
<circle cx="504.06" cy="358.97" r="3.05" fill="none" stroke="#2a74c0" stroke-width="1.12"/>
<circle cx="538.95" cy="358.97" r="3.05" fill="none" stroke="#2a74c0" stroke-width="1.12"/>
<circle cx="573.84" cy="358.12" r="3.05" fill="none" stroke="#2a74c0" stroke-width="1.12"/>
<circle cx="608.73" cy="358.69" r="3.05" fill="none" stroke="#2a74c0" stroke-width="1.12"/>
<circle cx="643.61" cy="358.69" r="3.05" fill="none" stroke="#2a74c0" stroke-width="1.12"/>
<circle cx="678.5" cy="357.84" r="3.05" fill="none" stroke="#2a74c0" stroke-width="1.12"/>
<polyline clip-path="url(#clipd)" points="399.4,302.32 434.29,302.32 469.17,302.32 504.06,302.32 538.95,302.32 573.84,302.32 608.73,302.32 643.61,302.03 678.5,300.62" fill="none" stroke="#ff2222" stroke-width="1.1" stroke-dasharray="2.6 1.9"/>
<circle cx="399.4" cy="302.32" r="3.05" fill="none" stroke="#ff2222" stroke-width="1.12"/>
<circle cx="434.29" cy="302.32" r="3.05" fill="none" stroke="#ff2222" stroke-width="1.12"/>
<circle cx="469.17" cy="302.32" r="3.05" fill="none" stroke="#ff2222" stroke-width="1.12"/>
<circle cx="504.06" cy="302.32" r="3.05" fill="none" stroke="#ff2222" stroke-width="1.12"/>
<circle cx="538.95" cy="302.32" r="3.05" fill="none" stroke="#ff2222" stroke-width="1.12"/>
<circle cx="573.84" cy="302.32" r="3.05" fill="none" stroke="#ff2222" stroke-width="1.12"/>
<circle cx="608.73" cy="302.32" r="3.05" fill="none" stroke="#ff2222" stroke-width="1.12"/>
<circle cx="643.61" cy="302.03" r="3.05" fill="none" stroke="#ff2222" stroke-width="1.12"/>
<circle cx="678.5" cy="300.62" r="3.05" fill="none" stroke="#ff2222" stroke-width="1.12"/>
<polyline clip-path="url(#clipd)" points="399.4,245.66 434.29,245.66 469.17,245.66 504.06,245.66 538.95,245.66 573.84,245.66 608.73,245.66 643.61,245.66 678.5,246.23" fill="none" stroke="#14f014" stroke-width="1.1" stroke-dasharray="4.2 1.8"/>
<circle cx="399.4" cy="245.66" r="3.05" fill="none" stroke="#14f014" stroke-width="1.12"/>
<circle cx="434.29" cy="245.66" r="3.05" fill="none" stroke="#14f014" stroke-width="1.12"/>
<circle cx="469.17" cy="245.66" r="3.05" fill="none" stroke="#14f014" stroke-width="1.12"/>
<circle cx="504.06" cy="245.66" r="3.05" fill="none" stroke="#14f014" stroke-width="1.12"/>
<circle cx="538.95" cy="245.66" r="3.05" fill="none" stroke="#14f014" stroke-width="1.12"/>
<circle cx="573.84" cy="245.66" r="3.05" fill="none" stroke="#14f014" stroke-width="1.12"/>
<circle cx="608.73" cy="245.66" r="3.05" fill="none" stroke="#14f014" stroke-width="1.12"/>
<circle cx="643.61" cy="245.66" r="3.05" fill="none" stroke="#14f014" stroke-width="1.12"/>
<circle cx="678.5" cy="246.23" r="3.05" fill="none" stroke="#14f014" stroke-width="1.12"/>
<polyline clip-path="url(#clipd)" points="399.4,373.14 434.29,373.14 469.17,373.14 504.06,373.14 538.95,373.14 573.84,373.14 608.73,373.14 643.61,373.42 678.5,373.7" fill="none" stroke="#b8805a" stroke-width="0.75" stroke-dasharray="4 1.6"/>
<circle cx="399.4" cy="373.14" r="3.05" fill="none" stroke="#8b4a24" stroke-width="1.12"/>
<circle cx="434.29" cy="373.14" r="3.05" fill="none" stroke="#8b4a24" stroke-width="1.12"/>
<circle cx="469.17" cy="373.14" r="3.05" fill="none" stroke="#8b4a24" stroke-width="1.12"/>
<circle cx="504.06" cy="373.14" r="3.05" fill="none" stroke="#8b4a24" stroke-width="1.12"/>
<circle cx="538.95" cy="373.14" r="3.05" fill="none" stroke="#8b4a24" stroke-width="1.12"/>
<circle cx="573.84" cy="373.14" r="3.05" fill="none" stroke="#8b4a24" stroke-width="1.12"/>
<circle cx="608.73" cy="373.14" r="3.05" fill="none" stroke="#8b4a24" stroke-width="1.12"/>
<circle cx="643.61" cy="373.42" r="3.05" fill="none" stroke="#8b4a24" stroke-width="1.12"/>
<circle cx="678.5" cy="373.7" r="3.05" fill="none" stroke="#8b4a24" stroke-width="1.12"/>
<polyline clip-path="url(#clipd)" points="399.4,373.14 434.29,373.14 469.17,373.14 504.06,373.14 538.95,373.14 573.84,373.14 608.73,373.14 643.61,373.42 678.5,373.7" fill="none" stroke="#5e1298" stroke-width="1.1"/>
<circle cx="399.4" cy="373.14" r="3.05" fill="none" stroke="#5e1298" stroke-width="1.12"/>
<circle cx="434.29" cy="373.14" r="3.05" fill="none" stroke="#5e1298" stroke-width="1.12"/>
<circle cx="469.17" cy="373.14" r="3.05" fill="none" stroke="#5e1298" stroke-width="1.12"/>
<circle cx="504.06" cy="373.14" r="3.05" fill="none" stroke="#5e1298" stroke-width="1.12"/>
<circle cx="538.95" cy="373.14" r="3.05" fill="none" stroke="#5e1298" stroke-width="1.12"/>
<circle cx="573.84" cy="373.14" r="3.05" fill="none" stroke="#5e1298" stroke-width="1.12"/>
<circle cx="608.73" cy="373.14" r="3.05" fill="none" stroke="#5e1298" stroke-width="1.12"/>
<circle cx="643.61" cy="373.42" r="3.05" fill="none" stroke="#5e1298" stroke-width="1.12"/>
<circle cx="678.5" cy="373.7" r="3.05" fill="none" stroke="#5e1298" stroke-width="1.12"/>
<polyline clip-path="url(#clipd)" points="399.4,358.97 434.29,358.97 469.17,358.97 504.06,358.97 538.95,358.97 573.84,357.27 608.73,355.29 643.61,353.59 678.5,351.89" fill="none" stroke="#2a74c0" stroke-width="1.0" stroke-dasharray="4.5 2.2 0.8 1.6"/>
<rect x="396.3" y="355.87" width="6.2" height="6.2" fill="none" stroke="#2a74c0" stroke-width="1.0"/>
<rect x="431.19" y="355.87" width="6.2" height="6.2" fill="none" stroke="#2a74c0" stroke-width="1.0"/>
<rect x="466.07" y="355.87" width="6.2" height="6.2" fill="none" stroke="#2a74c0" stroke-width="1.0"/>
<rect x="500.96" y="355.87" width="6.2" height="6.2" fill="none" stroke="#2a74c0" stroke-width="1.0"/>
<rect x="535.85" y="355.87" width="6.2" height="6.2" fill="none" stroke="#2a74c0" stroke-width="1.0"/>
<rect x="570.74" y="354.17" width="6.2" height="6.2" fill="none" stroke="#2a74c0" stroke-width="1.0"/>
<rect x="605.62" y="352.19" width="6.2" height="6.2" fill="none" stroke="#2a74c0" stroke-width="1.0"/>
<rect x="640.51" y="350.49" width="6.2" height="6.2" fill="none" stroke="#2a74c0" stroke-width="1.0"/>
<rect x="675.4" y="348.79" width="6.2" height="6.2" fill="none" stroke="#2a74c0" stroke-width="1.0"/>
<polyline clip-path="url(#clipd)" points="399.4,302.32 434.29,302.32 469.17,302.32 504.06,302.32 538.95,301.75 573.84,296.94 608.73,291.84 643.61,286.74 678.5,284.19" fill="none" stroke="#ff2222" stroke-width="1.1" stroke-dasharray="2.6 1.9"/>
<rect x="396.3" y="299.22" width="6.2" height="6.2" fill="none" stroke="#ff2222" stroke-width="1.0"/>
<rect x="431.19" y="299.22" width="6.2" height="6.2" fill="none" stroke="#ff2222" stroke-width="1.0"/>
<rect x="466.07" y="299.22" width="6.2" height="6.2" fill="none" stroke="#ff2222" stroke-width="1.0"/>
<rect x="500.96" y="299.22" width="6.2" height="6.2" fill="none" stroke="#ff2222" stroke-width="1.0"/>
<rect x="535.85" y="298.65" width="6.2" height="6.2" fill="none" stroke="#ff2222" stroke-width="1.0"/>
<rect x="570.74" y="293.84" width="6.2" height="6.2" fill="none" stroke="#ff2222" stroke-width="1.0"/>
<rect x="605.62" y="288.74" width="6.2" height="6.2" fill="none" stroke="#ff2222" stroke-width="1.0"/>
<rect x="640.51" y="283.64" width="6.2" height="6.2" fill="none" stroke="#ff2222" stroke-width="1.0"/>
<rect x="675.4" y="281.09" width="6.2" height="6.2" fill="none" stroke="#ff2222" stroke-width="1.0"/>
<polyline clip-path="url(#clipd)" points="399.4,245.66 434.29,245.66 469.17,245.66 504.06,245.66 538.95,246.23 573.84,253.88 608.73,262.66 643.61,271.44 678.5,277.96" fill="none" stroke="#14f014" stroke-width="1.1" stroke-dasharray="4.2 1.8"/>
<rect x="396.3" y="242.56" width="6.2" height="6.2" fill="none" stroke="#14f014" stroke-width="1.0"/>
<rect x="431.19" y="242.56" width="6.2" height="6.2" fill="none" stroke="#14f014" stroke-width="1.0"/>
<rect x="466.07" y="242.56" width="6.2" height="6.2" fill="none" stroke="#14f014" stroke-width="1.0"/>
<rect x="500.96" y="242.56" width="6.2" height="6.2" fill="none" stroke="#14f014" stroke-width="1.0"/>
<rect x="535.85" y="243.13" width="6.2" height="6.2" fill="none" stroke="#14f014" stroke-width="1.0"/>
<rect x="570.74" y="250.78" width="6.2" height="6.2" fill="none" stroke="#14f014" stroke-width="1.0"/>
<rect x="605.62" y="259.56" width="6.2" height="6.2" fill="none" stroke="#14f014" stroke-width="1.0"/>
<rect x="640.51" y="268.34" width="6.2" height="6.2" fill="none" stroke="#14f014" stroke-width="1.0"/>
<rect x="675.4" y="274.86" width="6.2" height="6.2" fill="none" stroke="#14f014" stroke-width="1.0"/>
<polyline clip-path="url(#clipd)" points="399.4,373.14 434.29,373.14 469.17,373.14 504.06,373.14 538.95,373.14 573.84,372 608.73,370.87 643.61,370.02 678.5,369.17" fill="none" stroke="#b8805a" stroke-width="0.75" stroke-dasharray="4 1.6"/>
<rect x="396.3" y="370.04" width="6.2" height="6.2" fill="none" stroke="#8b4a24" stroke-width="1.0"/>
<rect x="431.19" y="370.04" width="6.2" height="6.2" fill="none" stroke="#8b4a24" stroke-width="1.0"/>
<rect x="466.07" y="370.04" width="6.2" height="6.2" fill="none" stroke="#8b4a24" stroke-width="1.0"/>
<rect x="500.96" y="370.04" width="6.2" height="6.2" fill="none" stroke="#8b4a24" stroke-width="1.0"/>
<rect x="535.85" y="370.04" width="6.2" height="6.2" fill="none" stroke="#8b4a24" stroke-width="1.0"/>
<rect x="570.74" y="368.9" width="6.2" height="6.2" fill="none" stroke="#8b4a24" stroke-width="1.0"/>
<rect x="605.62" y="367.77" width="6.2" height="6.2" fill="none" stroke="#8b4a24" stroke-width="1.0"/>
<rect x="640.51" y="366.92" width="6.2" height="6.2" fill="none" stroke="#8b4a24" stroke-width="1.0"/>
<rect x="675.4" y="366.07" width="6.2" height="6.2" fill="none" stroke="#8b4a24" stroke-width="1.0"/>
<polyline clip-path="url(#clipd)" points="399.4,373.14 434.29,373.14 469.17,373.14 504.06,373.14 538.95,373.14 573.84,372 608.73,370.87 643.61,370.02 678.5,369.17" fill="none" stroke="#5e1298" stroke-width="1.1"/>
<rect x="396.3" y="370.04" width="6.2" height="6.2" fill="none" stroke="#5e1298" stroke-width="1.0"/>
<rect x="431.19" y="370.04" width="6.2" height="6.2" fill="none" stroke="#5e1298" stroke-width="1.0"/>
<rect x="466.07" y="370.04" width="6.2" height="6.2" fill="none" stroke="#5e1298" stroke-width="1.0"/>
<rect x="500.96" y="370.04" width="6.2" height="6.2" fill="none" stroke="#5e1298" stroke-width="1.0"/>
<rect x="535.85" y="370.04" width="6.2" height="6.2" fill="none" stroke="#5e1298" stroke-width="1.0"/>
<rect x="570.74" y="368.9" width="6.2" height="6.2" fill="none" stroke="#5e1298" stroke-width="1.0"/>
<rect x="605.62" y="367.77" width="6.2" height="6.2" fill="none" stroke="#5e1298" stroke-width="1.0"/>
<rect x="640.51" y="366.92" width="6.2" height="6.2" fill="none" stroke="#5e1298" stroke-width="1.0"/>
<rect x="675.4" y="366.07" width="6.2" height="6.2" fill="none" stroke="#5e1298" stroke-width="1.0"/>
<polyline clip-path="url(#clipd)" points="399.4,358.97 434.29,358.97 469.17,358.97 504.06,358.97 538.95,358.97 573.84,357.27 608.73,355.29 643.61,353.59 678.5,351.89" fill="none" stroke="#2a74c0" stroke-width="1.0" stroke-dasharray="4.5 2.2 0.8 1.6"/>
<path d="M396.4 355.97L402.4 361.97M396.4 361.97L402.4 355.97" stroke="#2a74c0" stroke-width="1.15" fill="none"/>
<path d="M431.29 355.97L437.29 361.97M431.29 361.97L437.29 355.97" stroke="#2a74c0" stroke-width="1.15" fill="none"/>
<path d="M466.17 355.97L472.17 361.97M466.17 361.97L472.17 355.97" stroke="#2a74c0" stroke-width="1.15" fill="none"/>
<path d="M501.06 355.97L507.06 361.97M501.06 361.97L507.06 355.97" stroke="#2a74c0" stroke-width="1.15" fill="none"/>
<path d="M535.95 355.97L541.95 361.97M535.95 361.97L541.95 355.97" stroke="#2a74c0" stroke-width="1.15" fill="none"/>
<path d="M570.84 354.27L576.84 360.27M570.84 360.27L576.84 354.27" stroke="#2a74c0" stroke-width="1.15" fill="none"/>
<path d="M605.73 352.29L611.73 358.29M605.73 358.29L611.73 352.29" stroke="#2a74c0" stroke-width="1.15" fill="none"/>
<path d="M640.61 350.59L646.61 356.59M640.61 356.59L646.61 350.59" stroke="#2a74c0" stroke-width="1.15" fill="none"/>
<path d="M675.5 348.89L681.5 354.89M675.5 354.89L681.5 348.89" stroke="#2a74c0" stroke-width="1.15" fill="none"/>
<polyline clip-path="url(#clipd)" points="399.4,302.32 434.29,302.32 469.17,302.32 504.06,302.32 538.95,301.75 573.84,296.94 608.73,291.84 643.61,286.74 678.5,284.19" fill="none" stroke="#ff2222" stroke-width="1.1" stroke-dasharray="2.6 1.9"/>
<path d="M396.4 299.32L402.4 305.32M396.4 305.32L402.4 299.32" stroke="#ff2222" stroke-width="1.15" fill="none"/>
<path d="M431.29 299.32L437.29 305.32M431.29 305.32L437.29 299.32" stroke="#ff2222" stroke-width="1.15" fill="none"/>
<path d="M466.17 299.32L472.17 305.32M466.17 305.32L472.17 299.32" stroke="#ff2222" stroke-width="1.15" fill="none"/>
<path d="M501.06 299.32L507.06 305.32M501.06 305.32L507.06 299.32" stroke="#ff2222" stroke-width="1.15" fill="none"/>
<path d="M535.95 298.75L541.95 304.75M535.95 304.75L541.95 298.75" stroke="#ff2222" stroke-width="1.15" fill="none"/>
<path d="M570.84 293.94L576.84 299.94M570.84 299.94L576.84 293.94" stroke="#ff2222" stroke-width="1.15" fill="none"/>
<path d="M605.73 288.84L611.73 294.84M605.73 294.84L611.73 288.84" stroke="#ff2222" stroke-width="1.15" fill="none"/>
<path d="M640.61 283.74L646.61 289.74M640.61 289.74L646.61 283.74" stroke="#ff2222" stroke-width="1.15" fill="none"/>
<path d="M675.5 281.19L681.5 287.19M675.5 287.19L681.5 281.19" stroke="#ff2222" stroke-width="1.15" fill="none"/>
<polyline clip-path="url(#clipd)" points="399.4,245.66 434.29,245.66 469.17,245.66 504.06,245.66 538.95,246.23 573.84,253.88 608.73,262.66 643.61,271.44 678.5,276.54" fill="none" stroke="#14f014" stroke-width="1.1" stroke-dasharray="4.2 1.8"/>
<path d="M396.4 242.66L402.4 248.66M396.4 248.66L402.4 242.66" stroke="#14f014" stroke-width="1.15" fill="none"/>
<path d="M431.29 242.66L437.29 248.66M431.29 248.66L437.29 242.66" stroke="#14f014" stroke-width="1.15" fill="none"/>
<path d="M466.17 242.66L472.17 248.66M466.17 248.66L472.17 242.66" stroke="#14f014" stroke-width="1.15" fill="none"/>
<path d="M501.06 242.66L507.06 248.66M501.06 248.66L507.06 242.66" stroke="#14f014" stroke-width="1.15" fill="none"/>
<path d="M535.95 243.23L541.95 249.23M535.95 249.23L541.95 243.23" stroke="#14f014" stroke-width="1.15" fill="none"/>
<path d="M570.84 250.88L576.84 256.88M570.84 256.88L576.84 250.88" stroke="#14f014" stroke-width="1.15" fill="none"/>
<path d="M605.73 259.66L611.73 265.66M605.73 265.66L611.73 259.66" stroke="#14f014" stroke-width="1.15" fill="none"/>
<path d="M640.61 268.44L646.61 274.44M640.61 274.44L646.61 268.44" stroke="#14f014" stroke-width="1.15" fill="none"/>
<path d="M675.5 273.54L681.5 279.54M675.5 279.54L681.5 273.54" stroke="#14f014" stroke-width="1.15" fill="none"/>
<polyline clip-path="url(#clipd)" points="399.4,373.14 434.29,373.14 469.17,373.14 504.06,373.14 538.95,373.14 573.84,372 608.73,370.87 643.61,370.02 678.5,369.17" fill="none" stroke="#b8805a" stroke-width="0.75" stroke-dasharray="4 1.6"/>
<path d="M396.4 370.14L402.4 376.14M396.4 376.14L402.4 370.14" stroke="#8b4a24" stroke-width="1.15" fill="none"/>
<path d="M431.29 370.14L437.29 376.14M431.29 376.14L437.29 370.14" stroke="#8b4a24" stroke-width="1.15" fill="none"/>
<path d="M466.17 370.14L472.17 376.14M466.17 376.14L472.17 370.14" stroke="#8b4a24" stroke-width="1.15" fill="none"/>
<path d="M501.06 370.14L507.06 376.14M501.06 376.14L507.06 370.14" stroke="#8b4a24" stroke-width="1.15" fill="none"/>
<path d="M535.95 370.14L541.95 376.14M535.95 376.14L541.95 370.14" stroke="#8b4a24" stroke-width="1.15" fill="none"/>
<path d="M570.84 369L576.84 375M570.84 375L576.84 369" stroke="#8b4a24" stroke-width="1.15" fill="none"/>
<path d="M605.73 367.87L611.73 373.87M605.73 373.87L611.73 367.87" stroke="#8b4a24" stroke-width="1.15" fill="none"/>
<path d="M640.61 367.02L646.61 373.02M640.61 373.02L646.61 367.02" stroke="#8b4a24" stroke-width="1.15" fill="none"/>
<path d="M675.5 366.17L681.5 372.17M675.5 372.17L681.5 366.17" stroke="#8b4a24" stroke-width="1.15" fill="none"/>
<polyline clip-path="url(#clipd)" points="399.4,373.14 434.29,373.14 469.17,373.14 504.06,373.14 538.95,373.14 573.84,372 608.73,370.87 643.61,370.02 678.5,369.17" fill="none" stroke="#5e1298" stroke-width="1.1"/>
<path d="M396.4 370.14L402.4 376.14M396.4 376.14L402.4 370.14" stroke="#5e1298" stroke-width="1.15" fill="none"/>
<path d="M431.29 370.14L437.29 376.14M431.29 376.14L437.29 370.14" stroke="#5e1298" stroke-width="1.15" fill="none"/>
<path d="M466.17 370.14L472.17 376.14M466.17 376.14L472.17 370.14" stroke="#5e1298" stroke-width="1.15" fill="none"/>
<path d="M501.06 370.14L507.06 376.14M501.06 376.14L507.06 370.14" stroke="#5e1298" stroke-width="1.15" fill="none"/>
<path d="M535.95 370.14L541.95 376.14M535.95 376.14L541.95 370.14" stroke="#5e1298" stroke-width="1.15" fill="none"/>
<path d="M570.84 369L576.84 375M570.84 375L576.84 369" stroke="#5e1298" stroke-width="1.15" fill="none"/>
<path d="M605.73 367.87L611.73 373.87M605.73 373.87L611.73 367.87" stroke="#5e1298" stroke-width="1.15" fill="none"/>
<path d="M640.61 367.02L646.61 373.02M640.61 373.02L646.61 367.02" stroke="#5e1298" stroke-width="1.15" fill="none"/>
<path d="M675.5 366.17L681.5 372.17M675.5 372.17L681.5 366.17" stroke="#5e1298" stroke-width="1.15" fill="none"/>
<text x="469.6" y="417.9" textLength="112.2" lengthAdjust="spacingAndGlyphs" style="font-family:'Liberation Sans',sans-serif;font-size:9px" fill="#222">Injection rate (Flits/Cycle/NIC)</text>
<text transform="translate(360.8,372.9) rotate(-90)" x="0" y="0" textLength="102" lengthAdjust="spacingAndGlyphs" style="font-family:'Liberation Sans',sans-serif;font-size:8.6px" fill="#222">Normalized Throughput (%)</text>
<text x="465.4" y="440.5" textLength="24.3" lengthAdjust="spacingAndGlyphs" style="font-family:'Liberation Serif',serif;font-weight:bold;font-size:19.5px" fill="#111">(d)</text>
<text x="499.1" y="441.4" textLength="51.4" lengthAdjust="spacingAndGlyphs" style="font-family:'Liberation Serif',serif;font-size:16.5px" fill="#333">24-ary</text>
<text x="557.2" y="441.4" textLength="46.1" lengthAdjust="spacingAndGlyphs" style="font-family:'Liberation Serif',serif;font-size:16.5px" fill="#333">2-tree</text>
<clipPath id="clipe"><rect x="50.6" y="458.7" width="281" height="155.4"/></clipPath>
<rect x="50.6" y="458.7" width="281" height="155.4" fill="none" stroke="#1a1a1a" stroke-width="1.2"/>
<text x="56.25" y="628.6" text-anchor="middle" textLength="11.5" lengthAdjust="spacingAndGlyphs" style="font-family:'Liberation Sans',sans-serif;font-size:8.8px" fill="#222">0.6</text>
<text x="89.69" y="628.6" text-anchor="middle" textLength="16" lengthAdjust="spacingAndGlyphs" style="font-family:'Liberation Sans',sans-serif;font-size:8.8px" fill="#222">0.65</text>
<text x="123.14" y="628.6" text-anchor="middle" textLength="11.5" lengthAdjust="spacingAndGlyphs" style="font-family:'Liberation Sans',sans-serif;font-size:8.8px" fill="#222">0.7</text>
<text x="156.58" y="628.6" text-anchor="middle" textLength="16" lengthAdjust="spacingAndGlyphs" style="font-family:'Liberation Sans',sans-serif;font-size:8.8px" fill="#222">0.75</text>
<text x="190.03" y="628.6" text-anchor="middle" textLength="11.5" lengthAdjust="spacingAndGlyphs" style="font-family:'Liberation Sans',sans-serif;font-size:8.8px" fill="#222">0.8</text>
<text x="223.47" y="628.6" text-anchor="middle" textLength="16" lengthAdjust="spacingAndGlyphs" style="font-family:'Liberation Sans',sans-serif;font-size:8.8px" fill="#222">0.85</text>
<text x="256.91" y="628.6" text-anchor="middle" textLength="11.5" lengthAdjust="spacingAndGlyphs" style="font-family:'Liberation Sans',sans-serif;font-size:8.8px" fill="#222">0.9</text>
<text x="290.36" y="628.6" text-anchor="middle" textLength="16" lengthAdjust="spacingAndGlyphs" style="font-family:'Liberation Sans',sans-serif;font-size:8.8px" fill="#222">0.95</text>
<text x="323.8" y="628.6" text-anchor="middle" textLength="4.9" lengthAdjust="spacingAndGlyphs" style="font-family:'Liberation Sans',sans-serif;font-size:8.8px" fill="#222">1</text>
<text x="39.3" y="617.85" text-anchor="end" textLength="13.9" lengthAdjust="spacingAndGlyphs" style="font-family:'Liberation Sans',sans-serif;font-size:8.8px" fill="#222">500</text>
<text x="39.3" y="591.95" text-anchor="end" textLength="18.4" lengthAdjust="spacingAndGlyphs" style="font-family:'Liberation Sans',sans-serif;font-size:8.8px" fill="#222">1000</text>
<text x="39.3" y="566.05" text-anchor="end" textLength="18.4" lengthAdjust="spacingAndGlyphs" style="font-family:'Liberation Sans',sans-serif;font-size:8.8px" fill="#222">1500</text>
<text x="39.3" y="540.15" text-anchor="end" textLength="18.4" lengthAdjust="spacingAndGlyphs" style="font-family:'Liberation Sans',sans-serif;font-size:8.8px" fill="#222">2000</text>
<text x="39.3" y="514.25" text-anchor="end" textLength="18.4" lengthAdjust="spacingAndGlyphs" style="font-family:'Liberation Sans',sans-serif;font-size:8.8px" fill="#222">2500</text>
<text x="39.3" y="488.35" text-anchor="end" textLength="18.4" lengthAdjust="spacingAndGlyphs" style="font-family:'Liberation Sans',sans-serif;font-size:8.8px" fill="#222">3000</text>
<text x="39.3" y="462.45" text-anchor="end" textLength="18.4" lengthAdjust="spacingAndGlyphs" style="font-family:'Liberation Sans',sans-serif;font-size:8.8px" fill="#222">3500</text>
<path d="M57.25 614.1v-4M57.25 458.7v4M90.69 614.1v-4M90.69 458.7v4M124.14 614.1v-4M124.14 458.7v4M157.58 614.1v-4M157.58 458.7v4M191.03 614.1v-4M191.03 458.7v4M224.47 614.1v-4M224.47 458.7v4M257.91 614.1v-4M257.91 458.7v4M291.36 614.1v-4M291.36 458.7v4M324.8 614.1v-4M324.8 458.7v4M50.6 614.1h4M331.6 614.1h-4M50.6 588.2h4M331.6 588.2h-4M50.6 562.3h4M331.6 562.3h-4M50.6 536.4h4M331.6 536.4h-4M50.6 510.5h4M331.6 510.5h-4M50.6 484.6h4M331.6 484.6h-4M50.6 458.7h4M331.6 458.7h-4" stroke="#1a1a1a" stroke-width="1.1"/>
<polyline clip-path="url(#clipe)" points="57.25,603.01 90.69,601.98 124.14,600.48 157.58,598.82 191.03,596.13 224.47,591.88 257.91,586.18 291.36,575.92 324.8,562.82" fill="none" stroke="#2a74c0" stroke-width="1.0" stroke-dasharray="4.5 2.2 0.8 1.6"/>
<circle cx="57.25" cy="603.01" r="3.05" fill="none" stroke="#2a74c0" stroke-width="1.12"/>
<circle cx="90.69" cy="601.98" r="3.05" fill="none" stroke="#2a74c0" stroke-width="1.12"/>
<circle cx="124.14" cy="600.48" r="3.05" fill="none" stroke="#2a74c0" stroke-width="1.12"/>
<circle cx="157.58" cy="598.82" r="3.05" fill="none" stroke="#2a74c0" stroke-width="1.12"/>
<circle cx="191.03" cy="596.13" r="3.05" fill="none" stroke="#2a74c0" stroke-width="1.12"/>
<circle cx="224.47" cy="591.88" r="3.05" fill="none" stroke="#2a74c0" stroke-width="1.12"/>
<circle cx="257.91" cy="586.18" r="3.05" fill="none" stroke="#2a74c0" stroke-width="1.12"/>
<circle cx="291.36" cy="575.92" r="3.05" fill="none" stroke="#2a74c0" stroke-width="1.12"/>
<circle cx="324.8" cy="562.82" r="3.05" fill="none" stroke="#2a74c0" stroke-width="1.12"/>
<polyline clip-path="url(#clipe)" points="57.25,601.93 90.69,601.15 124.14,599.39 157.58,597.68 191.03,594.62 224.47,589.91 257.91,583.02 291.36,570.9 324.8,555.15" fill="none" stroke="#ff2222" stroke-width="1.1" stroke-dasharray="2.6 1.9"/>
<circle cx="57.25" cy="601.93" r="3.05" fill="none" stroke="#ff2222" stroke-width="1.12"/>
<circle cx="90.69" cy="601.15" r="3.05" fill="none" stroke="#ff2222" stroke-width="1.12"/>
<circle cx="124.14" cy="599.39" r="3.05" fill="none" stroke="#ff2222" stroke-width="1.12"/>
<circle cx="157.58" cy="597.68" r="3.05" fill="none" stroke="#ff2222" stroke-width="1.12"/>
<circle cx="191.03" cy="594.62" r="3.05" fill="none" stroke="#ff2222" stroke-width="1.12"/>
<circle cx="224.47" cy="589.91" r="3.05" fill="none" stroke="#ff2222" stroke-width="1.12"/>
<circle cx="257.91" cy="583.02" r="3.05" fill="none" stroke="#ff2222" stroke-width="1.12"/>
<circle cx="291.36" cy="570.9" r="3.05" fill="none" stroke="#ff2222" stroke-width="1.12"/>
<circle cx="324.8" cy="555.15" r="3.05" fill="none" stroke="#ff2222" stroke-width="1.12"/>
<polyline clip-path="url(#clipe)" points="57.25,601.2 90.69,600.79 124.14,599.39 157.58,597.68 191.03,595.35 224.47,591.88 257.91,586.18 291.36,575.92 324.8,554.27" fill="none" stroke="#14f014" stroke-width="1.1" stroke-dasharray="4.2 1.8"/>
<circle cx="57.25" cy="601.2" r="3.05" fill="none" stroke="#14f014" stroke-width="1.12"/>
<circle cx="90.69" cy="600.79" r="3.05" fill="none" stroke="#14f014" stroke-width="1.12"/>
<circle cx="124.14" cy="599.39" r="3.05" fill="none" stroke="#14f014" stroke-width="1.12"/>
<circle cx="157.58" cy="597.68" r="3.05" fill="none" stroke="#14f014" stroke-width="1.12"/>
<circle cx="191.03" cy="595.35" r="3.05" fill="none" stroke="#14f014" stroke-width="1.12"/>
<circle cx="224.47" cy="591.88" r="3.05" fill="none" stroke="#14f014" stroke-width="1.12"/>
<circle cx="257.91" cy="586.18" r="3.05" fill="none" stroke="#14f014" stroke-width="1.12"/>
<circle cx="291.36" cy="575.92" r="3.05" fill="none" stroke="#14f014" stroke-width="1.12"/>
<circle cx="324.8" cy="554.27" r="3.05" fill="none" stroke="#14f014" stroke-width="1.12"/>
<polyline clip-path="url(#clipe)" points="57.25,593.9 90.69,592.6 124.14,590.53 157.58,587.99 191.03,583.54 224.47,575.77 257.91,558.57 291.36,524.23 324.8,474.24" fill="none" stroke="#5e1298" stroke-width="1.1"/>
<circle cx="57.25" cy="593.9" r="3.05" fill="none" stroke="#5e1298" stroke-width="1.12"/>
<circle cx="90.69" cy="592.6" r="3.05" fill="none" stroke="#5e1298" stroke-width="1.12"/>
<circle cx="124.14" cy="590.53" r="3.05" fill="none" stroke="#5e1298" stroke-width="1.12"/>
<circle cx="157.58" cy="587.99" r="3.05" fill="none" stroke="#5e1298" stroke-width="1.12"/>
<circle cx="191.03" cy="583.54" r="3.05" fill="none" stroke="#5e1298" stroke-width="1.12"/>
<circle cx="224.47" cy="575.77" r="3.05" fill="none" stroke="#5e1298" stroke-width="1.12"/>
<circle cx="257.91" cy="558.57" r="3.05" fill="none" stroke="#5e1298" stroke-width="1.12"/>
<circle cx="291.36" cy="524.23" r="3.05" fill="none" stroke="#5e1298" stroke-width="1.12"/>
<circle cx="324.8" cy="474.24" r="3.05" fill="none" stroke="#5e1298" stroke-width="1.12"/>
<text x="122.3" y="644.9" textLength="113.5" lengthAdjust="spacingAndGlyphs" style="font-family:'Liberation Sans',sans-serif;font-size:9px" fill="#222">Injection rate (Flits/Cycle/NIC)</text>
<text transform="translate(7.8,590.6) rotate(-90)" x="0" y="0" textLength="86.3" lengthAdjust="spacingAndGlyphs" style="font-family:'Liberation Sans',sans-serif;font-size:8.6px" fill="#222">End to end Latency (ns)</text>
<text x="116.8" y="667.4" textLength="21.7" lengthAdjust="spacingAndGlyphs" style="font-family:'Liberation Serif',serif;font-weight:bold;font-size:19.5px" fill="#111">(e)</text>
<text x="147.9" y="668.3" textLength="40.9" lengthAdjust="spacingAndGlyphs" style="font-family:'Liberation Serif',serif;font-size:16.5px" fill="#333">8-ary</text>
<text x="197" y="668.3" textLength="46" lengthAdjust="spacingAndGlyphs" style="font-family:'Liberation Serif',serif;font-size:16.5px" fill="#333">3-tree</text>
<clipPath id="clipf"><rect x="404.4" y="458.7" width="280.5" height="155.4"/></clipPath>
<rect x="404.4" y="458.7" width="280.5" height="155.4" fill="none" stroke="#1a1a1a" stroke-width="1.2"/>
<text x="409.9" y="628.6" text-anchor="middle" textLength="11.5" lengthAdjust="spacingAndGlyphs" style="font-family:'Liberation Sans',sans-serif;font-size:8.8px" fill="#222">0.6</text>
<text x="443.35" y="628.6" text-anchor="middle" textLength="16" lengthAdjust="spacingAndGlyphs" style="font-family:'Liberation Sans',sans-serif;font-size:8.8px" fill="#222">0.65</text>
<text x="476.8" y="628.6" text-anchor="middle" textLength="11.5" lengthAdjust="spacingAndGlyphs" style="font-family:'Liberation Sans',sans-serif;font-size:8.8px" fill="#222">0.7</text>
<text x="510.25" y="628.6" text-anchor="middle" textLength="16" lengthAdjust="spacingAndGlyphs" style="font-family:'Liberation Sans',sans-serif;font-size:8.8px" fill="#222">0.75</text>
<text x="543.7" y="628.6" text-anchor="middle" textLength="11.5" lengthAdjust="spacingAndGlyphs" style="font-family:'Liberation Sans',sans-serif;font-size:8.8px" fill="#222">0.8</text>
<text x="577.15" y="628.6" text-anchor="middle" textLength="16" lengthAdjust="spacingAndGlyphs" style="font-family:'Liberation Sans',sans-serif;font-size:8.8px" fill="#222">0.85</text>
<text x="610.6" y="628.6" text-anchor="middle" textLength="11.5" lengthAdjust="spacingAndGlyphs" style="font-family:'Liberation Sans',sans-serif;font-size:8.8px" fill="#222">0.9</text>
<text x="644.05" y="628.6" text-anchor="middle" textLength="16" lengthAdjust="spacingAndGlyphs" style="font-family:'Liberation Sans',sans-serif;font-size:8.8px" fill="#222">0.95</text>
<text x="677.5" y="628.6" text-anchor="middle" textLength="4.9" lengthAdjust="spacingAndGlyphs" style="font-family:'Liberation Sans',sans-serif;font-size:8.8px" fill="#222">1</text>
<text x="393.25" y="617.85" text-anchor="end" textLength="4.9" lengthAdjust="spacingAndGlyphs" style="font-family:'Liberation Sans',sans-serif;font-size:8.8px" fill="#222">0</text>
<text x="393.25" y="586.77" text-anchor="end" textLength="13.9" lengthAdjust="spacingAndGlyphs" style="font-family:'Liberation Sans',sans-serif;font-size:8.8px" fill="#222">500</text>
<text x="393.25" y="555.69" text-anchor="end" textLength="18.4" lengthAdjust="spacingAndGlyphs" style="font-family:'Liberation Sans',sans-serif;font-size:8.8px" fill="#222">1000</text>
<text x="393.25" y="524.61" text-anchor="end" textLength="18.4" lengthAdjust="spacingAndGlyphs" style="font-family:'Liberation Sans',sans-serif;font-size:8.8px" fill="#222">1500</text>
<text x="393.25" y="493.53" text-anchor="end" textLength="18.4" lengthAdjust="spacingAndGlyphs" style="font-family:'Liberation Sans',sans-serif;font-size:8.8px" fill="#222">2000</text>
<text x="393.25" y="462.45" text-anchor="end" textLength="18.4" lengthAdjust="spacingAndGlyphs" style="font-family:'Liberation Sans',sans-serif;font-size:8.8px" fill="#222">2500</text>
<path d="M410.9 614.1v-4M410.9 458.7v4M444.35 614.1v-4M444.35 458.7v4M477.8 614.1v-4M477.8 458.7v4M511.25 614.1v-4M511.25 458.7v4M544.7 614.1v-4M544.7 458.7v4M578.15 614.1v-4M578.15 458.7v4M611.6 614.1v-4M611.6 458.7v4M645.05 614.1v-4M645.05 458.7v4M678.5 614.1v-4M678.5 458.7v4M404.4 614.1h4M684.9 614.1h-4M404.4 583.02h4M684.9 583.02h-4M404.4 551.94h4M684.9 551.94h-4M404.4 520.86h4M684.9 520.86h-4M404.4 489.78h4M684.9 489.78h-4M404.4 458.7h4M684.9 458.7h-4" stroke="#1a1a1a" stroke-width="1.1"/>
<polyline clip-path="url(#clipf)" points="410.9,587.37 444.35,586.69 477.8,584.88 511.25,582.71 544.7,580.72 578.15,577.74 611.6,570.77 645.05,562.88 678.5,549.45" fill="none" stroke="#2a74c0" stroke-width="1.0" stroke-dasharray="4.5 2.2 0.8 1.6"/>
<circle cx="410.9" cy="587.37" r="3.05" fill="none" stroke="#2a74c0" stroke-width="1.12"/>
<circle cx="444.35" cy="586.69" r="3.05" fill="none" stroke="#2a74c0" stroke-width="1.12"/>
<circle cx="477.8" cy="584.88" r="3.05" fill="none" stroke="#2a74c0" stroke-width="1.12"/>
<circle cx="511.25" cy="582.71" r="3.05" fill="none" stroke="#2a74c0" stroke-width="1.12"/>
<circle cx="544.7" cy="580.72" r="3.05" fill="none" stroke="#2a74c0" stroke-width="1.12"/>
<circle cx="578.15" cy="577.74" r="3.05" fill="none" stroke="#2a74c0" stroke-width="1.12"/>
<circle cx="611.6" cy="570.77" r="3.05" fill="none" stroke="#2a74c0" stroke-width="1.12"/>
<circle cx="645.05" cy="562.88" r="3.05" fill="none" stroke="#2a74c0" stroke-width="1.12"/>
<circle cx="678.5" cy="549.45" r="3.05" fill="none" stroke="#2a74c0" stroke-width="1.12"/>
<polyline clip-path="url(#clipf)" points="410.9,585.82 444.35,584.57 477.8,583.02 511.25,581.47 544.7,579.29 578.15,575.37 611.6,568.91 645.05,558.53 678.5,543.18" fill="none" stroke="#ff2222" stroke-width="1.1" stroke-dasharray="2.6 1.9"/>
<circle cx="410.9" cy="585.82" r="3.05" fill="none" stroke="#ff2222" stroke-width="1.12"/>
<circle cx="444.35" cy="584.57" r="3.05" fill="none" stroke="#ff2222" stroke-width="1.12"/>
<circle cx="477.8" cy="583.02" r="3.05" fill="none" stroke="#ff2222" stroke-width="1.12"/>
<circle cx="511.25" cy="581.47" r="3.05" fill="none" stroke="#ff2222" stroke-width="1.12"/>
<circle cx="544.7" cy="579.29" r="3.05" fill="none" stroke="#ff2222" stroke-width="1.12"/>
<circle cx="578.15" cy="575.37" r="3.05" fill="none" stroke="#ff2222" stroke-width="1.12"/>
<circle cx="611.6" cy="568.91" r="3.05" fill="none" stroke="#ff2222" stroke-width="1.12"/>
<circle cx="645.05" cy="558.53" r="3.05" fill="none" stroke="#ff2222" stroke-width="1.12"/>
<circle cx="678.5" cy="543.18" r="3.05" fill="none" stroke="#ff2222" stroke-width="1.12"/>
<polyline clip-path="url(#clipf)" points="410.9,585.82 444.35,584.7 477.8,583.39 511.25,581.9 544.7,579.48 578.15,576.99 611.6,572.08 645.05,559.71 678.5,538.02" fill="none" stroke="#14f014" stroke-width="1.1" stroke-dasharray="4.2 1.8"/>
<circle cx="410.9" cy="585.82" r="3.05" fill="none" stroke="#14f014" stroke-width="1.12"/>
<circle cx="444.35" cy="584.7" r="3.05" fill="none" stroke="#14f014" stroke-width="1.12"/>
<circle cx="477.8" cy="583.39" r="3.05" fill="none" stroke="#14f014" stroke-width="1.12"/>
<circle cx="511.25" cy="581.9" r="3.05" fill="none" stroke="#14f014" stroke-width="1.12"/>
<circle cx="544.7" cy="579.48" r="3.05" fill="none" stroke="#14f014" stroke-width="1.12"/>
<circle cx="578.15" cy="576.99" r="3.05" fill="none" stroke="#14f014" stroke-width="1.12"/>
<circle cx="611.6" cy="572.08" r="3.05" fill="none" stroke="#14f014" stroke-width="1.12"/>
<circle cx="645.05" cy="559.71" r="3.05" fill="none" stroke="#14f014" stroke-width="1.12"/>
<circle cx="678.5" cy="538.02" r="3.05" fill="none" stroke="#14f014" stroke-width="1.12"/>
<polyline clip-path="url(#clipf)" points="410.9,578.3 444.35,577.11 477.8,575.56 511.25,572.76 544.7,568.41 578.15,560.02 611.6,543.49 645.05,509.42 678.5,459.2" fill="none" stroke="#5e1298" stroke-width="1.1"/>
<circle cx="410.9" cy="578.3" r="3.05" fill="none" stroke="#5e1298" stroke-width="1.12"/>
<circle cx="444.35" cy="577.11" r="3.05" fill="none" stroke="#5e1298" stroke-width="1.12"/>
<circle cx="477.8" cy="575.56" r="3.05" fill="none" stroke="#5e1298" stroke-width="1.12"/>
<circle cx="511.25" cy="572.76" r="3.05" fill="none" stroke="#5e1298" stroke-width="1.12"/>
<circle cx="544.7" cy="568.41" r="3.05" fill="none" stroke="#5e1298" stroke-width="1.12"/>
<circle cx="578.15" cy="560.02" r="3.05" fill="none" stroke="#5e1298" stroke-width="1.12"/>
<circle cx="611.6" cy="543.49" r="3.05" fill="none" stroke="#5e1298" stroke-width="1.12"/>
<circle cx="645.05" cy="509.42" r="3.05" fill="none" stroke="#5e1298" stroke-width="1.12"/>
<circle cx="678.5" cy="459.2" r="3.05" fill="none" stroke="#5e1298" stroke-width="1.12"/>
<text x="475.8" y="644.9" textLength="113.1" lengthAdjust="spacingAndGlyphs" style="font-family:'Liberation Sans',sans-serif;font-size:9px" fill="#222">Injection rate (Flits/Cycle/NIC)</text>
<text transform="translate(361,591.3) rotate(-90)" x="0" y="0" textLength="87.4" lengthAdjust="spacingAndGlyphs" style="font-family:'Liberation Sans',sans-serif;font-size:8.6px" fill="#222">End to end Latency (ns)</text>
<text x="466.9" y="667.2" textLength="21.6" lengthAdjust="spacingAndGlyphs" style="font-family:'Liberation Serif',serif;font-weight:bold;font-size:19.5px" fill="#111">(f)</text>
<text x="497.1" y="668.1" textLength="49.7" lengthAdjust="spacingAndGlyphs" style="font-family:'Liberation Serif',serif;font-size:16.5px" fill="#333">24-ary</text>
<text x="555.5" y="668.1" textLength="46.4" lengthAdjust="spacingAndGlyphs" style="font-family:'Liberation Serif',serif;font-size:16.5px" fill="#333">2-tree</text>
<text x="61.4" y="16.35" textLength="22.4" lengthAdjust="spacingAndGlyphs" style="font-family:'Liberation Sans',sans-serif;font-size:8.5px" fill="#222">VO-DT</text>
<line x1="93.3" y1="12.95" x2="124.3" y2="12.95" stroke="#2a74c0" stroke-width="1.0" stroke-dasharray="4.5 2.2 0.8 1.6"/>
<circle cx="109.1" cy="12.95" r="3.05" fill="none" stroke="#2a74c0" stroke-width="1.12"/>
<text x="65.4" y="25.95" textLength="18.4" lengthAdjust="spacingAndGlyphs" style="font-family:'Liberation Sans',sans-serif;font-size:8.5px" fill="#222">VI-DT</text>
<line x1="93.3" y1="22.55" x2="124.3" y2="22.55" stroke="#ff2222" stroke-width="1.1" stroke-dasharray="2.6 1.9"/>
<circle cx="109.1" cy="22.55" r="3.05" fill="none" stroke="#ff2222" stroke-width="1.12"/>
<text x="64.5" y="35.55" textLength="19.3" lengthAdjust="spacingAndGlyphs" style="font-family:'Liberation Sans',sans-serif;font-size:8.5px" fill="#222">CL-DT</text>
<line x1="93.3" y1="32.15" x2="124.3" y2="32.15" stroke="#14f014" stroke-width="1.1" stroke-dasharray="4.2 1.8"/>
<circle cx="109.1" cy="32.15" r="3.05" fill="none" stroke="#14f014" stroke-width="1.12"/>
<text x="64.3" y="45.15" textLength="19.5" lengthAdjust="spacingAndGlyphs" style="font-family:'Liberation Sans',sans-serif;font-size:8.5px" fill="#222">BE-DT</text>
<line x1="93.3" y1="41.75" x2="124.3" y2="41.75" stroke="#b8805a" stroke-width="0.75" stroke-dasharray="4 1.6"/>
<circle cx="109.1" cy="41.75" r="3.05" fill="none" stroke="#8b4a24" stroke-width="1.12"/>
<text x="64.2" y="54.75" textLength="19.6" lengthAdjust="spacingAndGlyphs" style="font-family:'Liberation Sans',sans-serif;font-size:8.5px" fill="#222">BK-DT</text>
<line x1="93.3" y1="51.35" x2="124.3" y2="51.35" stroke="#5e1298" stroke-width="1.1"/>
<circle cx="109.1" cy="51.35" r="3.05" fill="none" stroke="#5e1298" stroke-width="1.12"/>
<text x="61.8" y="64.35" textLength="22" lengthAdjust="spacingAndGlyphs" style="font-family:'Liberation Sans',sans-serif;font-size:8.5px" fill="#222">VO-RR</text>
<line x1="93.3" y1="60.95" x2="124.3" y2="60.95" stroke="#2a74c0" stroke-width="1.0" stroke-dasharray="4.5 2.2 0.8 1.6"/>
<rect x="106" y="57.85" width="6.2" height="6.2" fill="none" stroke="#2a74c0" stroke-width="1.0"/>
<text x="65.6" y="73.95" textLength="18.2" lengthAdjust="spacingAndGlyphs" style="font-family:'Liberation Sans',sans-serif;font-size:8.5px" fill="#222">VI-RR</text>
<line x1="93.3" y1="70.55" x2="124.3" y2="70.55" stroke="#ff2222" stroke-width="1.1" stroke-dasharray="2.6 1.9"/>
<rect x="106" y="67.45" width="6.2" height="6.2" fill="none" stroke="#ff2222" stroke-width="1.0"/>
<text x="64.5" y="83.55" textLength="19.3" lengthAdjust="spacingAndGlyphs" style="font-family:'Liberation Sans',sans-serif;font-size:8.5px" fill="#222">CL-RR</text>
<line x1="93.3" y1="80.15" x2="124.3" y2="80.15" stroke="#14f014" stroke-width="1.1" stroke-dasharray="4.2 1.8"/>
<rect x="106" y="77.05" width="6.2" height="6.2" fill="none" stroke="#14f014" stroke-width="1.0"/>
<text x="136.1" y="16.35" textLength="20.2" lengthAdjust="spacingAndGlyphs" style="font-family:'Liberation Sans',sans-serif;font-size:8.5px" fill="#222">BE-RR</text>
<line x1="166.6" y1="12.95" x2="197.8" y2="12.95" stroke="#b8805a" stroke-width="0.75" stroke-dasharray="4 1.6"/>
<rect x="179.2" y="9.85" width="6.2" height="6.2" fill="none" stroke="#8b4a24" stroke-width="1.0"/>
<text x="136.1" y="25.95" textLength="20.2" lengthAdjust="spacingAndGlyphs" style="font-family:'Liberation Sans',sans-serif;font-size:8.5px" fill="#222">BK-RR</text>
<line x1="166.6" y1="22.55" x2="197.8" y2="22.55" stroke="#5e1298" stroke-width="1.1"/>
<rect x="179.2" y="19.45" width="6.2" height="6.2" fill="none" stroke="#5e1298" stroke-width="1.0"/>
<text x="131.1" y="35.55" textLength="25.2" lengthAdjust="spacingAndGlyphs" style="font-family:'Liberation Sans',sans-serif;font-size:8.5px" fill="#222">VO-SBT</text>
<line x1="166.6" y1="32.15" x2="197.8" y2="32.15" stroke="#2a74c0" stroke-width="1.0" stroke-dasharray="4.5 2.2 0.8 1.6"/>
<path d="M179.3 29.15L185.3 35.15M179.3 35.15L185.3 29.15" stroke="#2a74c0" stroke-width="1.15" fill="none"/>
<text x="134.9" y="45.15" textLength="21.4" lengthAdjust="spacingAndGlyphs" style="font-family:'Liberation Sans',sans-serif;font-size:8.5px" fill="#222">VI-SBT</text>
<line x1="166.6" y1="41.75" x2="197.8" y2="41.75" stroke="#ff2222" stroke-width="1.1" stroke-dasharray="2.6 1.9"/>
<path d="M179.3 38.75L185.3 44.75M179.3 44.75L185.3 38.75" stroke="#ff2222" stroke-width="1.15" fill="none"/>
<text x="133.9" y="54.75" textLength="22.4" lengthAdjust="spacingAndGlyphs" style="font-family:'Liberation Sans',sans-serif;font-size:8.5px" fill="#222">CL-SBT</text>
<line x1="166.6" y1="51.35" x2="197.8" y2="51.35" stroke="#14f014" stroke-width="1.1" stroke-dasharray="4.2 1.8"/>
<path d="M179.3 48.35L185.3 54.35M179.3 54.35L185.3 48.35" stroke="#14f014" stroke-width="1.15" fill="none"/>
<text x="133.7" y="64.35" textLength="22.6" lengthAdjust="spacingAndGlyphs" style="font-family:'Liberation Sans',sans-serif;font-size:8.5px" fill="#222">BE-SBT</text>
<line x1="166.6" y1="60.95" x2="197.8" y2="60.95" stroke="#b8805a" stroke-width="0.75" stroke-dasharray="4 1.6"/>
<path d="M179.3 57.95L185.3 63.95M179.3 63.95L185.3 57.95" stroke="#8b4a24" stroke-width="1.15" fill="none"/>
<text x="133.5" y="73.95" textLength="22.8" lengthAdjust="spacingAndGlyphs" style="font-family:'Liberation Sans',sans-serif;font-size:8.5px" fill="#222">BK-SBT</text>
<line x1="166.6" y1="70.55" x2="197.8" y2="70.55" stroke="#5e1298" stroke-width="1.1"/>
<path d="M179.3 67.55L185.3 73.55M179.3 73.55L185.3 67.55" stroke="#5e1298" stroke-width="1.15" fill="none"/>
</svg></body></html>
